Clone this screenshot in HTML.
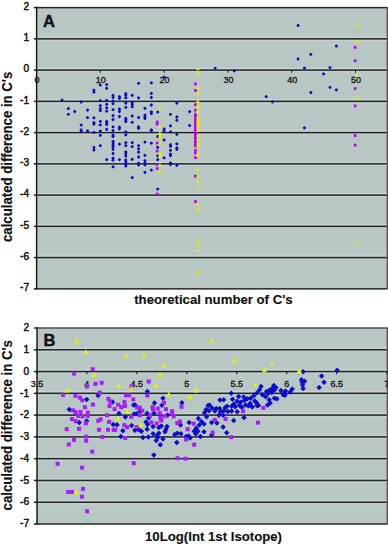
<!DOCTYPE html><html><head><meta charset="utf-8"><style>html,body{margin:0;padding:0;background:#fff;width:388px;height:544px;overflow:hidden}svg{display:block}</style></head><body><svg width="388" height="544" viewBox="0 0 388 544">
<style>text{font-family:"Liberation Sans",sans-serif;fill:#111}.yl{font-size:10.2px;stroke:#111;stroke-width:0.45px}.xl{font-size:9px;stroke:#111;stroke-width:0.3px}.t{font-size:13.2px;font-weight:bold;stroke:#111;stroke-width:0.15px}.p{font-size:16.5px;font-weight:bold;stroke:#111;stroke-width:0.4px}</style>
<rect width="388" height="544" fill="#fff"/>
<rect x="37" y="7.60" width="350" height="281.25" fill="#b8c6c4"/>
<rect x="386.6" y="7.00" width="1.4" height="282.45" fill="#555"/>
<rect x="33.8" y="6.85" width="353.00" height="1.5" fill="#222828"/>
<text x="29.2" y="9.90" text-anchor="end" class="yl">2</text>
<rect x="37" y="36.55" width="349.5" height="1.1" fill="#cad6d4"/>
<rect x="37" y="39.95" width="349.5" height="1.1" fill="#c6d2d0"/>
<rect x="33.8" y="38.10" width="353.00" height="1.5" fill="#222828"/>
<text x="29.2" y="41.15" text-anchor="end" class="yl">1</text>
<rect x="37" y="67.80" width="349.5" height="1.1" fill="#cad6d4"/>
<rect x="37" y="71.20" width="349.5" height="1.1" fill="#c6d2d0"/>
<rect x="33.8" y="69.35" width="353.00" height="1.5" fill="#222828"/>
<text x="29.2" y="72.40" text-anchor="end" class="yl">0</text>
<rect x="37" y="99.05" width="349.5" height="1.1" fill="#cad6d4"/>
<rect x="37" y="102.45" width="349.5" height="1.1" fill="#c6d2d0"/>
<rect x="33.8" y="100.60" width="353.00" height="1.5" fill="#222828"/>
<text x="29.2" y="103.65" text-anchor="end" class="yl"><tspan dy="-0.9">-</tspan><tspan dy="0.9">1</tspan></text>
<rect x="37" y="130.30" width="349.5" height="1.1" fill="#cad6d4"/>
<rect x="37" y="133.70" width="349.5" height="1.1" fill="#c6d2d0"/>
<rect x="33.8" y="131.85" width="353.00" height="1.5" fill="#222828"/>
<text x="29.2" y="134.90" text-anchor="end" class="yl"><tspan dy="-0.9">-</tspan><tspan dy="0.9">2</tspan></text>
<rect x="37" y="161.55" width="349.5" height="1.1" fill="#cad6d4"/>
<rect x="37" y="164.95" width="349.5" height="1.1" fill="#c6d2d0"/>
<rect x="33.8" y="163.10" width="353.00" height="1.5" fill="#222828"/>
<text x="29.2" y="166.15" text-anchor="end" class="yl"><tspan dy="-0.9">-</tspan><tspan dy="0.9">3</tspan></text>
<rect x="37" y="192.80" width="349.5" height="1.1" fill="#cad6d4"/>
<rect x="37" y="196.20" width="349.5" height="1.1" fill="#c6d2d0"/>
<rect x="33.8" y="194.35" width="353.00" height="1.5" fill="#222828"/>
<text x="29.2" y="197.40" text-anchor="end" class="yl"><tspan dy="-0.9">-</tspan><tspan dy="0.9">4</tspan></text>
<rect x="37" y="224.05" width="349.5" height="1.1" fill="#cad6d4"/>
<rect x="37" y="227.45" width="349.5" height="1.1" fill="#c6d2d0"/>
<rect x="33.8" y="225.60" width="353.00" height="1.5" fill="#222828"/>
<text x="29.2" y="228.65" text-anchor="end" class="yl"><tspan dy="-0.9">-</tspan><tspan dy="0.9">5</tspan></text>
<rect x="37" y="255.30" width="349.5" height="1.1" fill="#cad6d4"/>
<rect x="37" y="258.70" width="349.5" height="1.1" fill="#c6d2d0"/>
<rect x="33.8" y="256.85" width="353.00" height="1.5" fill="#222828"/>
<text x="29.2" y="259.90" text-anchor="end" class="yl"><tspan dy="-0.9">-</tspan><tspan dy="0.9">6</tspan></text>
<rect x="33.8" y="288.10" width="353.00" height="1.5" fill="#222828"/>
<text x="29.2" y="291.15" text-anchor="end" class="yl"><tspan dy="-0.9">-</tspan><tspan dy="0.9">7</tspan></text>
<rect x="35.9" y="6.80" width="1.4" height="282.85" fill="#111"/>
<rect x="36.00" y="70.10" width="1" height="2.6" fill="#111"/>
<text x="37.00" y="83.40" text-anchor="middle" class="xl">0</text>
<rect x="99.80" y="70.10" width="1" height="2.6" fill="#111"/>
<text x="100.80" y="83.40" text-anchor="middle" class="xl">10</text>
<rect x="163.60" y="70.10" width="1" height="2.6" fill="#111"/>
<text x="164.60" y="83.40" text-anchor="middle" class="xl">20</text>
<rect x="227.40" y="70.10" width="1" height="2.6" fill="#111"/>
<text x="228.40" y="83.40" text-anchor="middle" class="xl">30</text>
<rect x="291.20" y="70.10" width="1" height="2.6" fill="#111"/>
<text x="292.20" y="83.40" text-anchor="middle" class="xl">40</text>
<rect x="355.00" y="70.10" width="1" height="2.6" fill="#111"/>
<text x="356.00" y="83.40" text-anchor="middle" class="xl">50</text>
<rect x="37" y="328.00" width="350" height="196.02" fill="#b8c6c4"/>
<rect x="386.6" y="327.40" width="1.4" height="197.22" fill="#555"/>
<rect x="33.8" y="327.25" width="353.00" height="1.5" fill="#4a5050"/>
<text x="29.2" y="331.20" text-anchor="end" class="yl">2</text>
<rect x="37" y="347.48" width="349.5" height="1.1" fill="#cad6d4"/>
<rect x="37" y="350.88" width="349.5" height="1.1" fill="#c6d2d0"/>
<rect x="33.8" y="349.03" width="353.00" height="1.5" fill="#222828"/>
<text x="29.2" y="352.98" text-anchor="end" class="yl">1</text>
<rect x="37" y="369.26" width="349.5" height="1.1" fill="#cad6d4"/>
<rect x="37" y="372.66" width="349.5" height="1.1" fill="#c6d2d0"/>
<rect x="33.8" y="370.81" width="353.00" height="1.5" fill="#222828"/>
<text x="29.2" y="374.76" text-anchor="end" class="yl">0</text>
<rect x="37" y="391.04" width="349.5" height="1.1" fill="#cad6d4"/>
<rect x="37" y="394.44" width="349.5" height="1.1" fill="#c6d2d0"/>
<rect x="33.8" y="392.59" width="353.00" height="1.5" fill="#222828"/>
<text x="29.2" y="396.54" text-anchor="end" class="yl"><tspan dy="-0.9">-</tspan><tspan dy="0.9">1</tspan></text>
<rect x="37" y="412.82" width="349.5" height="1.1" fill="#cad6d4"/>
<rect x="37" y="416.22" width="349.5" height="1.1" fill="#c6d2d0"/>
<rect x="33.8" y="414.37" width="353.00" height="1.5" fill="#222828"/>
<text x="29.2" y="418.32" text-anchor="end" class="yl"><tspan dy="-0.9">-</tspan><tspan dy="0.9">2</tspan></text>
<rect x="37" y="434.60" width="349.5" height="1.1" fill="#cad6d4"/>
<rect x="37" y="438.00" width="349.5" height="1.1" fill="#c6d2d0"/>
<rect x="33.8" y="436.15" width="353.00" height="1.5" fill="#222828"/>
<text x="29.2" y="440.10" text-anchor="end" class="yl"><tspan dy="-0.9">-</tspan><tspan dy="0.9">3</tspan></text>
<rect x="37" y="456.38" width="349.5" height="1.1" fill="#cad6d4"/>
<rect x="37" y="459.78" width="349.5" height="1.1" fill="#c6d2d0"/>
<rect x="33.8" y="457.93" width="353.00" height="1.5" fill="#222828"/>
<text x="29.2" y="461.88" text-anchor="end" class="yl"><tspan dy="-0.9">-</tspan><tspan dy="0.9">4</tspan></text>
<rect x="37" y="478.16" width="349.5" height="1.1" fill="#cad6d4"/>
<rect x="37" y="481.56" width="349.5" height="1.1" fill="#c6d2d0"/>
<rect x="33.8" y="479.71" width="353.00" height="1.5" fill="#222828"/>
<text x="29.2" y="483.66" text-anchor="end" class="yl"><tspan dy="-0.9">-</tspan><tspan dy="0.9">5</tspan></text>
<rect x="37" y="499.94" width="349.5" height="1.1" fill="#cad6d4"/>
<rect x="37" y="503.34" width="349.5" height="1.1" fill="#c6d2d0"/>
<rect x="33.8" y="501.49" width="353.00" height="1.5" fill="#222828"/>
<text x="29.2" y="505.44" text-anchor="end" class="yl"><tspan dy="-0.9">-</tspan><tspan dy="0.9">6</tspan></text>
<rect x="33.8" y="523.27" width="353.00" height="1.5" fill="#222828"/>
<text x="29.2" y="527.22" text-anchor="end" class="yl"><tspan dy="-0.9">-</tspan><tspan dy="0.9">7</tspan></text>
<rect x="36.3" y="327.20" width="1.4" height="197.62" fill="#111"/>
<rect x="36.40" y="371.56" width="1" height="2.6" fill="#111"/>
<text x="36.90" y="387.00" text-anchor="middle" class="xl">3.5</text>
<rect x="86.37" y="371.56" width="1" height="2.6" fill="#111"/>
<text x="86.87" y="387.00" text-anchor="middle" class="xl">4</text>
<rect x="136.33" y="371.56" width="1" height="2.6" fill="#111"/>
<text x="136.83" y="387.00" text-anchor="middle" class="xl">4.5</text>
<rect x="186.30" y="371.56" width="1" height="2.6" fill="#111"/>
<text x="186.80" y="387.00" text-anchor="middle" class="xl">5</text>
<rect x="236.26" y="371.56" width="1" height="2.6" fill="#111"/>
<text x="236.76" y="387.00" text-anchor="middle" class="xl">5.5</text>
<rect x="286.23" y="371.56" width="1" height="2.6" fill="#111"/>
<text x="286.73" y="387.00" text-anchor="middle" class="xl">6</text>
<rect x="336.19" y="371.56" width="1" height="2.6" fill="#111"/>
<text x="336.69" y="387.00" text-anchor="middle" class="xl">6.5</text>
<rect x="386.15" y="371.56" width="1" height="2.6" fill="#111"/>
<text x="386.65" y="387.00" text-anchor="middle" class="xl">7</text>
<text x="43.0" y="26.5" class="p">A</text>
<text x="43.5" y="345.6" class="p">B</text>
<text x="134.2" y="303.9" class="t">theoretical number of C's</text>
<text x="145.0" y="540.9" class="t">10Log(Int 1st Isotope)</text>
<text transform="translate(12,242) rotate(-90) scale(1,1.06)" class="t">calculated difference in C's</text>
<text transform="translate(12,510.4) rotate(-90) scale(1,1.06)" class="t">calculated difference in C's</text>
<path d="M61.18 99.04Q62.02 98.05 62.86 99.04L63.18 99.36Q64.17 100.20 63.18 101.04L62.86 101.36Q62.02 102.35 61.18 101.36L60.86 101.04Q59.87 100.20 60.86 99.36Z" fill="#0c0ccc"/>
<path d="M67.56 107.54Q68.40 106.55 69.24 107.54L69.56 107.86Q70.55 108.70 69.56 109.54L69.24 109.86Q68.40 110.85 67.56 109.86L67.24 109.54Q66.25 108.70 67.24 107.86Z" fill="#0c0ccc"/>
<path d="M67.56 113.24Q68.40 112.25 69.24 113.24L69.56 113.56Q70.55 114.40 69.56 115.24L69.24 115.56Q68.40 116.55 67.56 115.56L67.24 115.24Q66.25 114.40 67.24 113.56Z" fill="#0c0ccc"/>
<path d="M73.94 110.34Q74.78 109.35 75.62 110.34L75.94 110.66Q76.93 111.50 75.94 112.34L75.62 112.66Q74.78 113.65 73.94 112.66L73.62 112.34Q72.63 111.50 73.62 110.66Z" fill="#0c0ccc"/>
<path d="M80.32 100.84Q81.16 99.85 82.00 100.84L82.32 101.16Q83.31 102.00 82.32 102.84L82.00 103.16Q81.16 104.15 80.32 103.16L80.00 102.84Q79.01 102.00 80.00 101.16Z" fill="#0c0ccc"/>
<path d="M80.32 123.94Q81.16 122.95 82.00 123.94L82.32 124.26Q83.31 125.10 82.32 125.94L82.00 126.26Q81.16 127.25 80.32 126.26L80.00 125.94Q79.01 125.10 80.00 124.26Z" fill="#0c0ccc"/>
<path d="M80.32 128.84Q81.16 127.85 82.00 128.84L82.32 129.16Q83.31 130.00 82.32 130.84L82.00 131.16Q81.16 132.15 80.32 131.16L80.00 130.84Q79.01 130.00 80.00 129.16Z" fill="#0c0ccc"/>
<path d="M80.32 129.94Q81.16 128.95 82.00 129.94L82.32 130.26Q83.31 131.10 82.32 131.94L82.00 132.26Q81.16 133.25 80.32 132.26L80.00 131.94Q79.01 131.10 80.00 130.26Z" fill="#0c0ccc"/>
<path d="M86.70 109.04Q87.54 108.05 88.38 109.04L88.70 109.36Q89.69 110.20 88.70 111.04L88.38 111.36Q87.54 112.35 86.70 111.36L86.38 111.04Q85.39 110.20 86.38 109.36Z" fill="#0c0ccc"/>
<path d="M86.70 116.54Q87.54 115.55 88.38 116.54L88.70 116.86Q89.69 117.70 88.70 118.54L88.38 118.86Q87.54 119.85 86.70 118.86L86.38 118.54Q85.39 117.70 86.38 116.86Z" fill="#0c0ccc"/>
<path d="M86.70 129.64Q87.54 128.65 88.38 129.64L88.70 129.96Q89.69 130.80 88.70 131.64L88.38 131.96Q87.54 132.95 86.70 131.96L86.38 131.64Q85.39 130.80 86.38 129.96Z" fill="#0c0ccc"/>
<path d="M93.08 88.94Q93.92 87.95 94.76 88.94L95.08 89.26Q96.07 90.10 95.08 90.94L94.76 91.26Q93.92 92.25 93.08 91.26L92.76 90.94Q91.77 90.10 92.76 89.26Z" fill="#0c0ccc"/>
<path d="M93.08 90.94Q93.92 89.95 94.76 90.94L95.08 91.26Q96.07 92.10 95.08 92.94L94.76 93.26Q93.92 94.25 93.08 93.26L92.76 92.94Q91.77 92.10 92.76 91.26Z" fill="#0c0ccc"/>
<path d="M93.08 116.74Q93.92 115.75 94.76 116.74L95.08 117.06Q96.07 117.90 95.08 118.74L94.76 119.06Q93.92 120.05 93.08 119.06L92.76 118.74Q91.77 117.90 92.76 117.06Z" fill="#0c0ccc"/>
<path d="M93.08 121.44Q93.92 120.45 94.76 121.44L95.08 121.76Q96.07 122.60 95.08 123.44L94.76 123.76Q93.92 124.75 93.08 123.76L92.76 123.44Q91.77 122.60 92.76 121.76Z" fill="#0c0ccc"/>
<path d="M93.08 122.94Q93.92 121.95 94.76 122.94L95.08 123.26Q96.07 124.10 95.08 124.94L94.76 125.26Q93.92 126.25 93.08 125.26L92.76 124.94Q91.77 124.10 92.76 123.26Z" fill="#0c0ccc"/>
<path d="M93.08 131.24Q93.92 130.25 94.76 131.24L95.08 131.56Q96.07 132.40 95.08 133.24L94.76 133.56Q93.92 134.55 93.08 133.56L92.76 133.24Q91.77 132.40 92.76 131.56Z" fill="#0c0ccc"/>
<path d="M93.08 146.34Q93.92 145.35 94.76 146.34L95.08 146.66Q96.07 147.50 95.08 148.34L94.76 148.66Q93.92 149.65 93.08 148.66L92.76 148.34Q91.77 147.50 92.76 146.66Z" fill="#0c0ccc"/>
<path d="M93.08 148.84Q93.92 147.85 94.76 148.84L95.08 149.16Q96.07 150.00 95.08 150.84L94.76 151.16Q93.92 152.15 93.08 151.16L92.76 150.84Q91.77 150.00 92.76 149.16Z" fill="#0c0ccc"/>
<path d="M99.46 83.84Q100.30 82.85 101.14 83.84L101.46 84.16Q102.45 85.00 101.46 85.84L101.14 86.16Q100.30 87.15 99.46 86.16L99.14 85.84Q98.15 85.00 99.14 84.16Z" fill="#0c0ccc"/>
<path d="M99.46 99.54Q100.30 98.55 101.14 99.54L101.46 99.86Q102.45 100.70 101.46 101.54L101.14 101.86Q100.30 102.85 99.46 101.86L99.14 101.54Q98.15 100.70 99.14 99.86Z" fill="#0c0ccc"/>
<path d="M99.46 104.54Q100.30 103.55 101.14 104.54L101.46 104.86Q102.45 105.70 101.46 106.54L101.14 106.86Q100.30 107.85 99.46 106.86L99.14 106.54Q98.15 105.70 99.14 104.86Z" fill="#0c0ccc"/>
<path d="M99.46 107.54Q100.30 106.55 101.14 107.54L101.46 107.86Q102.45 108.70 101.46 109.54L101.14 109.86Q100.30 110.85 99.46 109.86L99.14 109.54Q98.15 108.70 99.14 107.86Z" fill="#0c0ccc"/>
<path d="M99.46 109.44Q100.30 108.45 101.14 109.44L101.46 109.76Q102.45 110.60 101.46 111.44L101.14 111.76Q100.30 112.75 99.46 111.76L99.14 111.44Q98.15 110.60 99.14 109.76Z" fill="#0c0ccc"/>
<path d="M99.46 120.24Q100.30 119.25 101.14 120.24L101.46 120.56Q102.45 121.40 101.46 122.24L101.14 122.56Q100.30 123.55 99.46 122.56L99.14 122.24Q98.15 121.40 99.14 120.56Z" fill="#0c0ccc"/>
<path d="M99.46 123.74Q100.30 122.75 101.14 123.74L101.46 124.06Q102.45 124.90 101.46 125.74L101.14 126.06Q100.30 127.05 99.46 126.06L99.14 125.74Q98.15 124.90 99.14 124.06Z" fill="#0c0ccc"/>
<path d="M99.46 129.94Q100.30 128.95 101.14 129.94L101.46 130.26Q102.45 131.10 101.46 131.94L101.14 132.26Q100.30 133.25 99.46 132.26L99.14 131.94Q98.15 131.10 99.14 130.26Z" fill="#0c0ccc"/>
<path d="M99.46 134.24Q100.30 133.25 101.14 134.24L101.46 134.56Q102.45 135.40 101.46 136.24L101.14 136.56Q100.30 137.55 99.46 136.56L99.14 136.24Q98.15 135.40 99.14 134.56Z" fill="#0c0ccc"/>
<path d="M99.46 144.54Q100.30 143.55 101.14 144.54L101.46 144.86Q102.45 145.70 101.46 146.54L101.14 146.86Q100.30 147.85 99.46 146.86L99.14 146.54Q98.15 145.70 99.14 144.86Z" fill="#0c0ccc"/>
<path d="M105.84 83.44Q106.68 82.45 107.52 83.44L107.84 83.76Q108.83 84.60 107.84 85.44L107.52 85.76Q106.68 86.75 105.84 85.76L105.52 85.44Q104.53 84.60 105.52 83.76Z" fill="#0c0ccc"/>
<path d="M105.84 87.24Q106.68 86.25 107.52 87.24L107.84 87.56Q108.83 88.40 107.84 89.24L107.52 89.56Q106.68 90.55 105.84 89.56L105.52 89.24Q104.53 88.40 105.52 87.56Z" fill="#0c0ccc"/>
<path d="M105.84 99.24Q106.68 98.25 107.52 99.24L107.84 99.56Q108.83 100.40 107.84 101.24L107.52 101.56Q106.68 102.55 105.84 101.56L105.52 101.24Q104.53 100.40 105.52 99.56Z" fill="#0c0ccc"/>
<path d="M105.84 103.14Q106.68 102.15 107.52 103.14L107.84 103.46Q108.83 104.30 107.84 105.14L107.52 105.46Q106.68 106.45 105.84 105.46L105.52 105.14Q104.53 104.30 105.52 103.46Z" fill="#0c0ccc"/>
<path d="M105.84 106.64Q106.68 105.65 107.52 106.64L107.84 106.96Q108.83 107.80 107.84 108.64L107.52 108.96Q106.68 109.95 105.84 108.96L105.52 108.64Q104.53 107.80 105.52 106.96Z" fill="#0c0ccc"/>
<path d="M105.84 109.94Q106.68 108.95 107.52 109.94L107.84 110.26Q108.83 111.10 107.84 111.94L107.52 112.26Q106.68 113.25 105.84 112.26L105.52 111.94Q104.53 111.10 105.52 110.26Z" fill="#0c0ccc"/>
<path d="M105.84 120.34Q106.68 119.35 107.52 120.34L107.84 120.66Q108.83 121.50 107.84 122.34L107.52 122.66Q106.68 123.65 105.84 122.66L105.52 122.34Q104.53 121.50 105.52 120.66Z" fill="#0c0ccc"/>
<path d="M105.84 122.04Q106.68 121.05 107.52 122.04L107.84 122.36Q108.83 123.20 107.84 124.04L107.52 124.36Q106.68 125.35 105.84 124.36L105.52 124.04Q104.53 123.20 105.52 122.36Z" fill="#0c0ccc"/>
<path d="M105.84 123.44Q106.68 122.45 107.52 123.44L107.84 123.76Q108.83 124.60 107.84 125.44L107.52 125.76Q106.68 126.75 105.84 125.76L105.52 125.44Q104.53 124.60 105.52 123.76Z" fill="#0c0ccc"/>
<path d="M105.84 128.24Q106.68 127.25 107.52 128.24L107.84 128.56Q108.83 129.40 107.84 130.24L107.52 130.56Q106.68 131.55 105.84 130.56L105.52 130.24Q104.53 129.40 105.52 128.56Z" fill="#0c0ccc"/>
<path d="M105.84 158.44Q106.68 157.45 107.52 158.44L107.84 158.76Q108.83 159.60 107.84 160.44L107.52 160.76Q106.68 161.75 105.84 160.76L105.52 160.44Q104.53 159.60 105.52 158.76Z" fill="#0c0ccc"/>
<path d="M112.22 94.24Q113.06 93.25 113.90 94.24L114.22 94.56Q115.21 95.40 114.22 96.24L113.90 96.56Q113.06 97.55 112.22 96.56L111.90 96.24Q110.91 95.40 111.90 94.56Z" fill="#0c0ccc"/>
<path d="M112.22 96.14Q113.06 95.15 113.90 96.14L114.22 96.46Q115.21 97.30 114.22 98.14L113.90 98.46Q113.06 99.45 112.22 98.46L111.90 98.14Q110.91 97.30 111.90 96.46Z" fill="#0c0ccc"/>
<path d="M112.22 99.84Q113.06 98.85 113.90 99.84L114.22 100.16Q115.21 101.00 114.22 101.84L113.90 102.16Q113.06 103.15 112.22 102.16L111.90 101.84Q110.91 101.00 111.90 100.16Z" fill="#0c0ccc"/>
<path d="M112.22 102.54Q113.06 101.55 113.90 102.54L114.22 102.86Q115.21 103.70 114.22 104.54L113.90 104.86Q113.06 105.85 112.22 104.86L111.90 104.54Q110.91 103.70 111.90 102.86Z" fill="#0c0ccc"/>
<path d="M112.22 108.44Q113.06 107.45 113.90 108.44L114.22 108.76Q115.21 109.60 114.22 110.44L113.90 110.76Q113.06 111.75 112.22 110.76L111.90 110.44Q110.91 109.60 111.90 108.76Z" fill="#0c0ccc"/>
<path d="M112.22 114.44Q113.06 113.45 113.90 114.44L114.22 114.76Q115.21 115.60 114.22 116.44L113.90 116.76Q113.06 117.75 112.22 116.76L111.90 116.44Q110.91 115.60 111.90 114.76Z" fill="#0c0ccc"/>
<path d="M112.22 118.34Q113.06 117.35 113.90 118.34L114.22 118.66Q115.21 119.50 114.22 120.34L113.90 120.66Q113.06 121.65 112.22 120.66L111.90 120.34Q110.91 119.50 111.90 118.66Z" fill="#0c0ccc"/>
<path d="M112.22 125.74Q113.06 124.75 113.90 125.74L114.22 126.06Q115.21 126.90 114.22 127.74L113.90 128.06Q113.06 129.05 112.22 128.06L111.90 127.74Q110.91 126.90 111.90 126.06Z" fill="#0c0ccc"/>
<path d="M112.22 129.44Q113.06 128.45 113.90 129.44L114.22 129.76Q115.21 130.60 114.22 131.44L113.90 131.76Q113.06 132.75 112.22 131.76L111.90 131.44Q110.91 130.60 111.90 129.76Z" fill="#0c0ccc"/>
<path d="M112.22 134.04Q113.06 133.05 113.90 134.04L114.22 134.36Q115.21 135.20 114.22 136.04L113.90 136.36Q113.06 137.35 112.22 136.36L111.90 136.04Q110.91 135.20 111.90 134.36Z" fill="#0c0ccc"/>
<path d="M112.22 135.44Q113.06 134.45 113.90 135.44L114.22 135.76Q115.21 136.60 114.22 137.44L113.90 137.76Q113.06 138.75 112.22 137.76L111.90 137.44Q110.91 136.60 111.90 135.76Z" fill="#0c0ccc"/>
<path d="M112.22 140.24Q113.06 139.25 113.90 140.24L114.22 140.56Q115.21 141.40 114.22 142.24L113.90 142.56Q113.06 143.55 112.22 142.56L111.90 142.24Q110.91 141.40 111.90 140.56Z" fill="#0c0ccc"/>
<path d="M112.22 141.84Q113.06 140.85 113.90 141.84L114.22 142.16Q115.21 143.00 114.22 143.84L113.90 144.16Q113.06 145.15 112.22 144.16L111.90 143.84Q110.91 143.00 111.90 142.16Z" fill="#0c0ccc"/>
<path d="M112.22 143.94Q113.06 142.95 113.90 143.94L114.22 144.26Q115.21 145.10 114.22 145.94L113.90 146.26Q113.06 147.25 112.22 146.26L111.90 145.94Q110.91 145.10 111.90 144.26Z" fill="#0c0ccc"/>
<path d="M112.22 145.74Q113.06 144.75 113.90 145.74L114.22 146.06Q115.21 146.90 114.22 147.74L113.90 148.06Q113.06 149.05 112.22 148.06L111.90 147.74Q110.91 146.90 111.90 146.06Z" fill="#0c0ccc"/>
<path d="M112.22 148.24Q113.06 147.25 113.90 148.24L114.22 148.56Q115.21 149.40 114.22 150.24L113.90 150.56Q113.06 151.55 112.22 150.56L111.90 150.24Q110.91 149.40 111.90 148.56Z" fill="#0c0ccc"/>
<path d="M112.22 152.34Q113.06 151.35 113.90 152.34L114.22 152.66Q115.21 153.50 114.22 154.34L113.90 154.66Q113.06 155.65 112.22 154.66L111.90 154.34Q110.91 153.50 111.90 152.66Z" fill="#0c0ccc"/>
<path d="M112.22 157.04Q113.06 156.05 113.90 157.04L114.22 157.36Q115.21 158.20 114.22 159.04L113.90 159.36Q113.06 160.35 112.22 159.36L111.90 159.04Q110.91 158.20 111.90 157.36Z" fill="#0c0ccc"/>
<path d="M112.22 159.04Q113.06 158.05 113.90 159.04L114.22 159.36Q115.21 160.20 114.22 161.04L113.90 161.36Q113.06 162.35 112.22 161.36L111.90 161.04Q110.91 160.20 111.90 159.36Z" fill="#0c0ccc"/>
<path d="M112.22 165.74Q113.06 164.75 113.90 165.74L114.22 166.06Q115.21 166.90 114.22 167.74L113.90 168.06Q113.06 169.05 112.22 168.06L111.90 167.74Q110.91 166.90 111.90 166.06Z" fill="#0c0ccc"/>
<path d="M118.60 95.54Q119.44 94.55 120.28 95.54L120.60 95.86Q121.59 96.70 120.60 97.54L120.28 97.86Q119.44 98.85 118.60 97.86L118.28 97.54Q117.29 96.70 118.28 95.86Z" fill="#0c0ccc"/>
<path d="M118.60 97.34Q119.44 96.35 120.28 97.34L120.60 97.66Q121.59 98.50 120.60 99.34L120.28 99.66Q119.44 100.65 118.60 99.66L118.28 99.34Q117.29 98.50 118.28 97.66Z" fill="#0c0ccc"/>
<path d="M118.60 107.84Q119.44 106.85 120.28 107.84L120.60 108.16Q121.59 109.00 120.60 109.84L120.28 110.16Q119.44 111.15 118.60 110.16L118.28 109.84Q117.29 109.00 118.28 108.16Z" fill="#0c0ccc"/>
<path d="M118.60 110.34Q119.44 109.35 120.28 110.34L120.60 110.66Q121.59 111.50 120.60 112.34L120.28 112.66Q119.44 113.65 118.60 112.66L118.28 112.34Q117.29 111.50 118.28 110.66Z" fill="#0c0ccc"/>
<path d="M118.60 115.34Q119.44 114.35 120.28 115.34L120.60 115.66Q121.59 116.50 120.60 117.34L120.28 117.66Q119.44 118.65 118.60 117.66L118.28 117.34Q117.29 116.50 118.28 115.66Z" fill="#0c0ccc"/>
<path d="M118.60 125.94Q119.44 124.95 120.28 125.94L120.60 126.26Q121.59 127.10 120.60 127.94L120.28 128.26Q119.44 129.25 118.60 128.26L118.28 127.94Q117.29 127.10 118.28 126.26Z" fill="#0c0ccc"/>
<path d="M118.60 127.84Q119.44 126.85 120.28 127.84L120.60 128.16Q121.59 129.00 120.60 129.84L120.28 130.16Q119.44 131.15 118.60 130.16L118.28 129.84Q117.29 129.00 118.28 128.16Z" fill="#0c0ccc"/>
<path d="M118.60 143.04Q119.44 142.05 120.28 143.04L120.60 143.36Q121.59 144.20 120.60 145.04L120.28 145.36Q119.44 146.35 118.60 145.36L118.28 145.04Q117.29 144.20 118.28 143.36Z" fill="#0c0ccc"/>
<path d="M118.60 158.44Q119.44 157.45 120.28 158.44L120.60 158.76Q121.59 159.60 120.60 160.44L120.28 160.76Q119.44 161.75 118.60 160.76L118.28 160.44Q117.29 159.60 118.28 158.76Z" fill="#0c0ccc"/>
<path d="M124.98 92.44Q125.82 91.45 126.66 92.44L126.98 92.76Q127.97 93.60 126.98 94.44L126.66 94.76Q125.82 95.75 124.98 94.76L124.66 94.44Q123.67 93.60 124.66 92.76Z" fill="#0c0ccc"/>
<path d="M124.98 94.24Q125.82 93.25 126.66 94.24L126.98 94.56Q127.97 95.40 126.98 96.24L126.66 96.56Q125.82 97.55 124.98 96.56L124.66 96.24Q123.67 95.40 124.66 94.56Z" fill="#0c0ccc"/>
<path d="M124.98 96.74Q125.82 95.75 126.66 96.74L126.98 97.06Q127.97 97.90 126.98 98.74L126.66 99.06Q125.82 100.05 124.98 99.06L124.66 98.74Q123.67 97.90 124.66 97.06Z" fill="#0c0ccc"/>
<path d="M124.98 102.04Q125.82 101.05 126.66 102.04L126.98 102.36Q127.97 103.20 126.98 104.04L126.66 104.36Q125.82 105.35 124.98 104.36L124.66 104.04Q123.67 103.20 124.66 102.36Z" fill="#0c0ccc"/>
<path d="M124.98 106.24Q125.82 105.25 126.66 106.24L126.98 106.56Q127.97 107.40 126.98 108.24L126.66 108.56Q125.82 109.55 124.98 108.56L124.66 108.24Q123.67 107.40 124.66 106.56Z" fill="#0c0ccc"/>
<path d="M124.98 117.14Q125.82 116.15 126.66 117.14L126.98 117.46Q127.97 118.30 126.98 119.14L126.66 119.46Q125.82 120.45 124.98 119.46L124.66 119.14Q123.67 118.30 124.66 117.46Z" fill="#0c0ccc"/>
<path d="M124.98 118.64Q125.82 117.65 126.66 118.64L126.98 118.96Q127.97 119.80 126.98 120.64L126.66 120.96Q125.82 121.95 124.98 120.96L124.66 120.64Q123.67 119.80 124.66 118.96Z" fill="#0c0ccc"/>
<path d="M124.98 120.44Q125.82 119.45 126.66 120.44L126.98 120.76Q127.97 121.60 126.98 122.44L126.66 122.76Q125.82 123.75 124.98 122.76L124.66 122.44Q123.67 121.60 124.66 120.76Z" fill="#0c0ccc"/>
<path d="M124.98 130.64Q125.82 129.65 126.66 130.64L126.98 130.96Q127.97 131.80 126.98 132.64L126.66 132.96Q125.82 133.95 124.98 132.96L124.66 132.64Q123.67 131.80 124.66 130.96Z" fill="#0c0ccc"/>
<path d="M124.98 133.64Q125.82 132.65 126.66 133.64L126.98 133.96Q127.97 134.80 126.98 135.64L126.66 135.96Q125.82 136.95 124.98 135.96L124.66 135.64Q123.67 134.80 124.66 133.96Z" fill="#0c0ccc"/>
<path d="M124.98 141.44Q125.82 140.45 126.66 141.44L126.98 141.76Q127.97 142.60 126.98 143.44L126.66 143.76Q125.82 144.75 124.98 143.76L124.66 143.44Q123.67 142.60 124.66 141.76Z" fill="#0c0ccc"/>
<path d="M124.98 144.54Q125.82 143.55 126.66 144.54L126.98 144.86Q127.97 145.70 126.98 146.54L126.66 146.86Q125.82 147.85 124.98 146.86L124.66 146.54Q123.67 145.70 124.66 144.86Z" fill="#0c0ccc"/>
<path d="M124.98 150.74Q125.82 149.75 126.66 150.74L126.98 151.06Q127.97 151.90 126.98 152.74L126.66 153.06Q125.82 154.05 124.98 153.06L124.66 152.74Q123.67 151.90 124.66 151.06Z" fill="#0c0ccc"/>
<path d="M124.98 152.54Q125.82 151.55 126.66 152.54L126.98 152.86Q127.97 153.70 126.98 154.54L126.66 154.86Q125.82 155.85 124.98 154.86L124.66 154.54Q123.67 153.70 124.66 152.86Z" fill="#0c0ccc"/>
<path d="M124.98 154.84Q125.82 153.85 126.66 154.84L126.98 155.16Q127.97 156.00 126.98 156.84L126.66 157.16Q125.82 158.15 124.98 157.16L124.66 156.84Q123.67 156.00 124.66 155.16Z" fill="#0c0ccc"/>
<path d="M124.98 158.84Q125.82 157.85 126.66 158.84L126.98 159.16Q127.97 160.00 126.98 160.84L126.66 161.16Q125.82 162.15 124.98 161.16L124.66 160.84Q123.67 160.00 124.66 159.16Z" fill="#0c0ccc"/>
<path d="M124.98 160.84Q125.82 159.85 126.66 160.84L126.98 161.16Q127.97 162.00 126.98 162.84L126.66 163.16Q125.82 164.15 124.98 163.16L124.66 162.84Q123.67 162.00 124.66 161.16Z" fill="#0c0ccc"/>
<path d="M124.98 163.34Q125.82 162.35 126.66 163.34L126.98 163.66Q127.97 164.50 126.98 165.34L126.66 165.66Q125.82 166.65 124.98 165.66L124.66 165.34Q123.67 164.50 124.66 163.66Z" fill="#0c0ccc"/>
<path d="M124.98 164.84Q125.82 163.85 126.66 164.84L126.98 165.16Q127.97 166.00 126.98 166.84L126.66 167.16Q125.82 168.15 124.98 167.16L124.66 166.84Q123.67 166.00 124.66 165.16Z" fill="#0c0ccc"/>
<path d="M131.36 94.24Q132.20 93.25 133.04 94.24L133.36 94.56Q134.35 95.40 133.36 96.24L133.04 96.56Q132.20 97.55 131.36 96.56L131.04 96.24Q130.05 95.40 131.04 94.56Z" fill="#0c0ccc"/>
<path d="M131.36 101.64Q132.20 100.65 133.04 101.64L133.36 101.96Q134.35 102.80 133.36 103.64L133.04 103.96Q132.20 104.95 131.36 103.96L131.04 103.64Q130.05 102.80 131.04 101.96Z" fill="#0c0ccc"/>
<path d="M131.36 103.54Q132.20 102.55 133.04 103.54L133.36 103.86Q134.35 104.70 133.36 105.54L133.04 105.86Q132.20 106.85 131.36 105.86L131.04 105.54Q130.05 104.70 131.04 103.86Z" fill="#0c0ccc"/>
<path d="M131.36 105.74Q132.20 104.75 133.04 105.74L133.36 106.06Q134.35 106.90 133.36 107.74L133.04 108.06Q132.20 109.05 131.36 108.06L131.04 107.74Q130.05 106.90 131.04 106.06Z" fill="#0c0ccc"/>
<path d="M131.36 114.84Q132.20 113.85 133.04 114.84L133.36 115.16Q134.35 116.00 133.36 116.84L133.04 117.16Q132.20 118.15 131.36 117.16L131.04 116.84Q130.05 116.00 131.04 115.16Z" fill="#0c0ccc"/>
<path d="M131.36 121.14Q132.20 120.15 133.04 121.14L133.36 121.46Q134.35 122.30 133.36 123.14L133.04 123.46Q132.20 124.45 131.36 123.46L131.04 123.14Q130.05 122.30 131.04 121.46Z" fill="#0c0ccc"/>
<path d="M131.36 141.44Q132.20 140.45 133.04 141.44L133.36 141.76Q134.35 142.60 133.36 143.44L133.04 143.76Q132.20 144.75 131.36 143.76L131.04 143.44Q130.05 142.60 131.04 141.76Z" fill="#0c0ccc"/>
<path d="M131.36 145.54Q132.20 144.55 133.04 145.54L133.36 145.86Q134.35 146.70 133.36 147.54L133.04 147.86Q132.20 148.85 131.36 147.86L131.04 147.54Q130.05 146.70 131.04 145.86Z" fill="#0c0ccc"/>
<path d="M131.36 158.24Q132.20 157.25 133.04 158.24L133.36 158.56Q134.35 159.40 133.36 160.24L133.04 160.56Q132.20 161.55 131.36 160.56L131.04 160.24Q130.05 159.40 131.04 158.56Z" fill="#0c0ccc"/>
<path d="M131.36 176.54Q132.20 175.55 133.04 176.54L133.36 176.86Q134.35 177.70 133.36 178.54L133.04 178.86Q132.20 179.85 131.36 178.86L131.04 178.54Q130.05 177.70 131.04 176.86Z" fill="#0c0ccc"/>
<path d="M137.74 82.14Q138.58 81.15 139.42 82.14L139.74 82.46Q140.73 83.30 139.74 84.14L139.42 84.46Q138.58 85.45 137.74 84.46L137.42 84.14Q136.43 83.30 137.42 82.46Z" fill="#0c0ccc"/>
<path d="M137.74 96.74Q138.58 95.75 139.42 96.74L139.74 97.06Q140.73 97.90 139.74 98.74L139.42 99.06Q138.58 100.05 137.74 99.06L137.42 98.74Q136.43 97.90 137.42 97.06Z" fill="#0c0ccc"/>
<path d="M137.74 116.34Q138.58 115.35 139.42 116.34L139.74 116.66Q140.73 117.50 139.74 118.34L139.42 118.66Q138.58 119.65 137.74 118.66L137.42 118.34Q136.43 117.50 137.42 116.66Z" fill="#0c0ccc"/>
<path d="M137.74 125.74Q138.58 124.75 139.42 125.74L139.74 126.06Q140.73 126.90 139.74 127.74L139.42 128.06Q138.58 129.05 137.74 128.06L137.42 127.74Q136.43 126.90 137.42 126.06Z" fill="#0c0ccc"/>
<path d="M137.74 127.24Q138.58 126.25 139.42 127.24L139.74 127.56Q140.73 128.40 139.74 129.24L139.42 129.56Q138.58 130.55 137.74 129.56L137.42 129.24Q136.43 128.40 137.42 127.56Z" fill="#0c0ccc"/>
<path d="M137.74 144.54Q138.58 143.55 139.42 144.54L139.74 144.86Q140.73 145.70 139.74 146.54L139.42 146.86Q138.58 147.85 137.74 146.86L137.42 146.54Q136.43 145.70 137.42 144.86Z" fill="#0c0ccc"/>
<path d="M137.74 147.64Q138.58 146.65 139.42 147.64L139.74 147.96Q140.73 148.80 139.74 149.64L139.42 149.96Q138.58 150.95 137.74 149.96L137.42 149.64Q136.43 148.80 137.42 147.96Z" fill="#0c0ccc"/>
<path d="M137.74 150.94Q138.58 149.95 139.42 150.94L139.74 151.26Q140.73 152.10 139.74 152.94L139.42 153.26Q138.58 154.25 137.74 153.26L137.42 152.94Q136.43 152.10 137.42 151.26Z" fill="#0c0ccc"/>
<path d="M137.74 155.84Q138.58 154.85 139.42 155.84L139.74 156.16Q140.73 157.00 139.74 157.84L139.42 158.16Q138.58 159.15 137.74 158.16L137.42 157.84Q136.43 157.00 137.42 156.16Z" fill="#0c0ccc"/>
<path d="M137.74 162.04Q138.58 161.05 139.42 162.04L139.74 162.36Q140.73 163.20 139.74 164.04L139.42 164.36Q138.58 165.35 137.74 164.36L137.42 164.04Q136.43 163.20 137.42 162.36Z" fill="#0c0ccc"/>
<path d="M137.74 163.74Q138.58 162.75 139.42 163.74L139.74 164.06Q140.73 164.90 139.74 165.74L139.42 166.06Q138.58 167.05 137.74 166.06L137.42 165.74Q136.43 164.90 137.42 164.06Z" fill="#0c0ccc"/>
<path d="M144.12 107.24Q144.96 106.25 145.80 107.24L146.12 107.56Q147.11 108.40 146.12 109.24L145.80 109.56Q144.96 110.55 144.12 109.56L143.80 109.24Q142.81 108.40 143.80 107.56Z" fill="#0c0ccc"/>
<path d="M144.12 114.04Q144.96 113.05 145.80 114.04L146.12 114.36Q147.11 115.20 146.12 116.04L145.80 116.36Q144.96 117.35 144.12 116.36L143.80 116.04Q142.81 115.20 143.80 114.36Z" fill="#0c0ccc"/>
<path d="M144.12 115.94Q144.96 114.95 145.80 115.94L146.12 116.26Q147.11 117.10 146.12 117.94L145.80 118.26Q144.96 119.25 144.12 118.26L143.80 117.94Q142.81 117.10 143.80 116.26Z" fill="#0c0ccc"/>
<path d="M144.12 117.34Q144.96 116.35 145.80 117.34L146.12 117.66Q147.11 118.50 146.12 119.34L145.80 119.66Q144.96 120.65 144.12 119.66L143.80 119.34Q142.81 118.50 143.80 117.66Z" fill="#0c0ccc"/>
<path d="M144.12 141.04Q144.96 140.05 145.80 141.04L146.12 141.36Q147.11 142.20 146.12 143.04L145.80 143.36Q144.96 144.35 144.12 143.36L143.80 143.04Q142.81 142.20 143.80 141.36Z" fill="#0c0ccc"/>
<path d="M144.12 154.14Q144.96 153.15 145.80 154.14L146.12 154.46Q147.11 155.30 146.12 156.14L145.80 156.46Q144.96 157.45 144.12 156.46L143.80 156.14Q142.81 155.30 143.80 154.46Z" fill="#0c0ccc"/>
<path d="M144.12 159.54Q144.96 158.55 145.80 159.54L146.12 159.86Q147.11 160.70 146.12 161.54L145.80 161.86Q144.96 162.85 144.12 161.86L143.80 161.54Q142.81 160.70 143.80 159.86Z" fill="#0c0ccc"/>
<path d="M144.12 162.04Q144.96 161.05 145.80 162.04L146.12 162.36Q147.11 163.20 146.12 164.04L145.80 164.36Q144.96 165.35 144.12 164.36L143.80 164.04Q142.81 163.20 143.80 162.36Z" fill="#0c0ccc"/>
<path d="M144.12 163.74Q144.96 162.75 145.80 163.74L146.12 164.06Q147.11 164.90 146.12 165.74L145.80 166.06Q144.96 167.05 144.12 166.06L143.80 165.74Q142.81 164.90 143.80 164.06Z" fill="#0c0ccc"/>
<path d="M144.12 171.14Q144.96 170.15 145.80 171.14L146.12 171.46Q147.11 172.30 146.12 173.14L145.80 173.46Q144.96 174.45 144.12 173.46L143.80 173.14Q142.81 172.30 143.80 171.46Z" fill="#0c0ccc"/>
<path d="M150.50 81.64Q151.34 80.65 152.18 81.64L152.50 81.96Q153.49 82.80 152.50 83.64L152.18 83.96Q151.34 84.95 150.50 83.96L150.18 83.64Q149.19 82.80 150.18 81.96Z" fill="#0c0ccc"/>
<path d="M150.50 92.14Q151.34 91.15 152.18 92.14L152.50 92.46Q153.49 93.30 152.50 94.14L152.18 94.46Q151.34 95.45 150.50 94.46L150.18 94.14Q149.19 93.30 150.18 92.46Z" fill="#0c0ccc"/>
<path d="M150.50 96.34Q151.34 95.35 152.18 96.34L152.50 96.66Q153.49 97.50 152.50 98.34L152.18 98.66Q151.34 99.65 150.50 98.66L150.18 98.34Q149.19 97.50 150.18 96.66Z" fill="#0c0ccc"/>
<path d="M150.50 103.84Q151.34 102.85 152.18 103.84L152.50 104.16Q153.49 105.00 152.50 105.84L152.18 106.16Q151.34 107.15 150.50 106.16L150.18 105.84Q149.19 105.00 150.18 104.16Z" fill="#0c0ccc"/>
<path d="M150.50 110.74Q151.34 109.75 152.18 110.74L152.50 111.06Q153.49 111.90 152.50 112.74L152.18 113.06Q151.34 114.05 150.50 113.06L150.18 112.74Q149.19 111.90 150.18 111.06Z" fill="#0c0ccc"/>
<path d="M150.50 112.54Q151.34 111.55 152.18 112.54L152.50 112.86Q153.49 113.70 152.50 114.54L152.18 114.86Q151.34 115.85 150.50 114.86L150.18 114.54Q149.19 113.70 150.18 112.86Z" fill="#0c0ccc"/>
<path d="M150.50 128.74Q151.34 127.75 152.18 128.74L152.50 129.06Q153.49 129.90 152.50 130.74L152.18 131.06Q151.34 132.05 150.50 131.06L150.18 130.74Q149.19 129.90 150.18 129.06Z" fill="#0c0ccc"/>
<path d="M150.50 129.84Q151.34 128.85 152.18 129.84L152.50 130.16Q153.49 131.00 152.50 131.84L152.18 132.16Q151.34 133.15 150.50 132.16L150.18 131.84Q149.19 131.00 150.18 130.16Z" fill="#0c0ccc"/>
<path d="M150.50 142.04Q151.34 141.05 152.18 142.04L152.50 142.36Q153.49 143.20 152.50 144.04L152.18 144.36Q151.34 145.35 150.50 144.36L150.18 144.04Q149.19 143.20 150.18 142.36Z" fill="#0c0ccc"/>
<path d="M150.50 169.04Q151.34 168.05 152.18 169.04L152.50 169.36Q153.49 170.20 152.50 171.04L152.18 171.36Q151.34 172.35 150.50 171.36L150.18 171.04Q149.19 170.20 150.18 169.36Z" fill="#0c0ccc"/>
<path d="M156.88 111.04Q157.72 110.05 158.56 111.04L158.88 111.36Q159.87 112.20 158.88 113.04L158.56 113.36Q157.72 114.35 156.88 113.36L156.56 113.04Q155.57 112.20 156.56 111.36Z" fill="#0c0ccc"/>
<path d="M156.88 135.34Q157.72 134.35 158.56 135.34L158.88 135.66Q159.87 136.50 158.88 137.34L158.56 137.66Q157.72 138.65 156.88 137.66L156.56 137.34Q155.57 136.50 156.56 135.66Z" fill="#0c0ccc"/>
<path d="M156.88 146.24Q157.72 145.25 158.56 146.24L158.88 146.56Q159.87 147.40 158.88 148.24L158.56 148.56Q157.72 149.55 156.88 148.56L156.56 148.24Q155.57 147.40 156.56 146.56Z" fill="#0c0ccc"/>
<path d="M156.88 154.64Q157.72 153.65 158.56 154.64L158.88 154.96Q159.87 155.80 158.88 156.64L158.56 156.96Q157.72 157.95 156.88 156.96L156.56 156.64Q155.57 155.80 156.56 154.96Z" fill="#0c0ccc"/>
<path d="M156.88 158.44Q157.72 157.45 158.56 158.44L158.88 158.76Q159.87 159.60 158.88 160.44L158.56 160.76Q157.72 161.75 156.88 160.76L156.56 160.44Q155.57 159.60 156.56 158.76Z" fill="#0c0ccc"/>
<path d="M156.88 188.04Q157.72 187.05 158.56 188.04L158.88 188.36Q159.87 189.20 158.88 190.04L158.56 190.36Q157.72 191.35 156.88 190.36L156.56 190.04Q155.57 189.20 156.56 188.36Z" fill="#0c0ccc"/>
<path d="M163.26 76.04Q164.10 75.05 164.94 76.04L165.26 76.36Q166.25 77.20 165.26 78.04L164.94 78.36Q164.10 79.35 163.26 78.36L162.94 78.04Q161.95 77.20 162.94 76.36Z" fill="#0c0ccc"/>
<path d="M163.26 127.84Q164.10 126.85 164.94 127.84L165.26 128.16Q166.25 129.00 165.26 129.84L164.94 130.16Q164.10 131.15 163.26 130.16L162.94 129.84Q161.95 129.00 162.94 128.16Z" fill="#0c0ccc"/>
<path d="M163.26 130.04Q164.10 129.05 164.94 130.04L165.26 130.36Q166.25 131.20 165.26 132.04L164.94 132.36Q164.10 133.35 163.26 132.36L162.94 132.04Q161.95 131.20 162.94 130.36Z" fill="#0c0ccc"/>
<path d="M163.26 138.84Q164.10 137.85 164.94 138.84L165.26 139.16Q166.25 140.00 165.26 140.84L164.94 141.16Q164.10 142.15 163.26 141.16L162.94 140.84Q161.95 140.00 162.94 139.16Z" fill="#0c0ccc"/>
<path d="M163.26 156.74Q164.10 155.75 164.94 156.74L165.26 157.06Q166.25 157.90 165.26 158.74L164.94 159.06Q164.10 160.05 163.26 159.06L162.94 158.74Q161.95 157.90 162.94 157.06Z" fill="#0c0ccc"/>
<path d="M169.64 113.24Q170.48 112.25 171.32 113.24L171.64 113.56Q172.63 114.40 171.64 115.24L171.32 115.56Q170.48 116.55 169.64 115.56L169.32 115.24Q168.33 114.40 169.32 113.56Z" fill="#0c0ccc"/>
<path d="M169.64 124.64Q170.48 123.65 171.32 124.64L171.64 124.96Q172.63 125.80 171.64 126.64L171.32 126.96Q170.48 127.95 169.64 126.96L169.32 126.64Q168.33 125.80 169.32 124.96Z" fill="#0c0ccc"/>
<path d="M169.64 130.64Q170.48 129.65 171.32 130.64L171.64 130.96Q172.63 131.80 171.64 132.64L171.32 132.96Q170.48 133.95 169.64 132.96L169.32 132.64Q168.33 131.80 169.32 130.96Z" fill="#0c0ccc"/>
<path d="M169.64 143.54Q170.48 142.55 171.32 143.54L171.64 143.86Q172.63 144.70 171.64 145.54L171.32 145.86Q170.48 146.85 169.64 145.86L169.32 145.54Q168.33 144.70 169.32 143.86Z" fill="#0c0ccc"/>
<path d="M169.64 145.14Q170.48 144.15 171.32 145.14L171.64 145.46Q172.63 146.30 171.64 147.14L171.32 147.46Q170.48 148.45 169.64 147.46L169.32 147.14Q168.33 146.30 169.32 145.46Z" fill="#0c0ccc"/>
<path d="M169.64 149.24Q170.48 148.25 171.32 149.24L171.64 149.56Q172.63 150.40 171.64 151.24L171.32 151.56Q170.48 152.55 169.64 151.56L169.32 151.24Q168.33 150.40 169.32 149.56Z" fill="#0c0ccc"/>
<path d="M169.64 152.94Q170.48 151.95 171.32 152.94L171.64 153.26Q172.63 154.10 171.64 154.94L171.32 155.26Q170.48 156.25 169.64 155.26L169.32 154.94Q168.33 154.10 169.32 153.26Z" fill="#0c0ccc"/>
<path d="M169.64 154.44Q170.48 153.45 171.32 154.44L171.64 154.76Q172.63 155.60 171.64 156.44L171.32 156.76Q170.48 157.75 169.64 156.76L169.32 156.44Q168.33 155.60 169.32 154.76Z" fill="#0c0ccc"/>
<path d="M169.64 161.84Q170.48 160.85 171.32 161.84L171.64 162.16Q172.63 163.00 171.64 163.84L171.32 164.16Q170.48 165.15 169.64 164.16L169.32 163.84Q168.33 163.00 169.32 162.16Z" fill="#0c0ccc"/>
<path d="M169.64 163.54Q170.48 162.55 171.32 163.54L171.64 163.86Q172.63 164.70 171.64 165.54L171.32 165.86Q170.48 166.85 169.64 165.86L169.32 165.54Q168.33 164.70 169.32 163.86Z" fill="#0c0ccc"/>
<path d="M176.02 101.84Q176.86 100.85 177.70 101.84L178.02 102.16Q179.01 103.00 178.02 103.84L177.70 104.16Q176.86 105.15 176.02 104.16L175.70 103.84Q174.71 103.00 175.70 102.16Z" fill="#0c0ccc"/>
<path d="M176.02 115.84Q176.86 114.85 177.70 115.84L178.02 116.16Q179.01 117.00 178.02 117.84L177.70 118.16Q176.86 119.15 176.02 118.16L175.70 117.84Q174.71 117.00 175.70 116.16Z" fill="#0c0ccc"/>
<path d="M176.02 119.14Q176.86 118.15 177.70 119.14L178.02 119.46Q179.01 120.30 178.02 121.14L177.70 121.46Q176.86 122.45 176.02 121.46L175.70 121.14Q174.71 120.30 175.70 119.46Z" fill="#0c0ccc"/>
<path d="M176.02 133.14Q176.86 132.15 177.70 133.14L178.02 133.46Q179.01 134.30 178.02 135.14L177.70 135.46Q176.86 136.45 176.02 135.46L175.70 135.14Q174.71 134.30 175.70 133.46Z" fill="#0c0ccc"/>
<path d="M176.02 142.64Q176.86 141.65 177.70 142.64L178.02 142.96Q179.01 143.80 178.02 144.64L177.70 144.96Q176.86 145.95 176.02 144.96L175.70 144.64Q174.71 143.80 175.70 142.96Z" fill="#0c0ccc"/>
<path d="M176.02 146.74Q176.86 145.75 177.70 146.74L178.02 147.06Q179.01 147.90 178.02 148.74L177.70 149.06Q176.86 150.05 176.02 149.06L175.70 148.74Q174.71 147.90 175.70 147.06Z" fill="#0c0ccc"/>
<path d="M176.02 148.24Q176.86 147.25 177.70 148.24L178.02 148.56Q179.01 149.40 178.02 150.24L177.70 150.56Q176.86 151.55 176.02 150.56L175.70 150.24Q174.71 149.40 175.70 148.56Z" fill="#0c0ccc"/>
<path d="M176.02 164.14Q176.86 163.15 177.70 164.14L178.02 164.46Q179.01 165.30 178.02 166.14L177.70 166.46Q176.86 167.45 176.02 166.46L175.70 166.14Q174.71 165.30 175.70 164.46Z" fill="#0c0ccc"/>
<path d="M188.78 110.54Q189.62 109.55 190.46 110.54L190.78 110.86Q191.77 111.70 190.78 112.54L190.46 112.86Q189.62 113.85 188.78 112.86L188.46 112.54Q187.47 111.70 188.46 110.86Z" fill="#0c0ccc"/>
<path d="M188.78 124.34Q189.62 123.35 190.46 124.34L190.78 124.66Q191.77 125.50 190.78 126.34L190.46 126.66Q189.62 127.65 188.78 126.66L188.46 126.34Q187.47 125.50 188.46 124.66Z" fill="#0c0ccc"/>
<path d="M214.30 67.14Q215.14 66.15 215.98 67.14L216.30 67.46Q217.29 68.30 216.30 69.14L215.98 69.46Q215.14 70.45 214.30 69.46L213.98 69.14Q212.99 68.30 213.98 67.46Z" fill="#0c0ccc"/>
<path d="M233.44 69.64Q234.28 68.65 235.12 69.64L235.44 69.96Q236.43 70.80 235.44 71.64L235.12 71.96Q234.28 72.95 233.44 71.96L233.12 71.64Q232.13 70.80 233.12 69.96Z" fill="#0c0ccc"/>
<path d="M265.34 95.44Q266.18 94.45 267.02 95.44L267.34 95.76Q268.33 96.60 267.34 97.44L267.02 97.76Q266.18 98.75 265.34 97.76L265.02 97.44Q264.03 96.60 265.02 95.76Z" fill="#0c0ccc"/>
<path d="M271.72 100.64Q272.56 99.65 273.40 100.64L273.72 100.96Q274.71 101.80 273.72 102.64L273.40 102.96Q272.56 103.95 271.72 102.96L271.40 102.64Q270.41 101.80 271.40 100.96Z" fill="#0c0ccc"/>
<path d="M297.24 24.34Q298.08 23.35 298.92 24.34L299.24 24.66Q300.23 25.50 299.24 26.34L298.92 26.66Q298.08 27.65 297.24 26.66L296.92 26.34Q295.93 25.50 296.92 24.66Z" fill="#0c0ccc"/>
<path d="M297.24 57.84Q298.08 56.85 298.92 57.84L299.24 58.16Q300.23 59.00 299.24 59.84L298.92 60.16Q298.08 61.15 297.24 60.16L296.92 59.84Q295.93 59.00 296.92 58.16Z" fill="#0c0ccc"/>
<path d="M303.62 67.04Q304.46 66.05 305.30 67.04L305.62 67.36Q306.61 68.20 305.62 69.04L305.30 69.36Q304.46 70.35 303.62 69.36L303.30 69.04Q302.31 68.20 303.30 67.36Z" fill="#0c0ccc"/>
<path d="M303.62 126.64Q304.46 125.65 305.30 126.64L305.62 126.96Q306.61 127.80 305.62 128.64L305.30 128.96Q304.46 129.95 303.62 128.96L303.30 128.64Q302.31 127.80 303.30 126.96Z" fill="#0c0ccc"/>
<path d="M310.00 53.14Q310.84 52.15 311.68 53.14L312.00 53.46Q312.99 54.30 312.00 55.14L311.68 55.46Q310.84 56.45 310.00 55.46L309.68 55.14Q308.69 54.30 309.68 53.46Z" fill="#0c0ccc"/>
<path d="M310.00 91.34Q310.84 90.35 311.68 91.34L312.00 91.66Q312.99 92.50 312.00 93.34L311.68 93.66Q310.84 94.65 310.00 93.66L309.68 93.34Q308.69 92.50 309.68 91.66Z" fill="#0c0ccc"/>
<path d="M322.76 72.74Q323.60 71.75 324.44 72.74L324.76 73.06Q325.75 73.90 324.76 74.74L324.44 75.06Q323.60 76.05 322.76 75.06L322.44 74.74Q321.45 73.90 322.44 73.06Z" fill="#0c0ccc"/>
<path d="M329.14 66.54Q329.98 65.55 330.82 66.54L331.14 66.86Q332.13 67.70 331.14 68.54L330.82 68.86Q329.98 69.85 329.14 68.86L328.82 68.54Q327.83 67.70 328.82 66.86Z" fill="#0c0ccc"/>
<path d="M329.14 86.14Q329.98 85.15 330.82 86.14L331.14 86.46Q332.13 87.30 331.14 88.14L330.82 88.46Q329.98 89.45 329.14 88.46L328.82 88.14Q327.83 87.30 328.82 86.46Z" fill="#0c0ccc"/>
<path d="M335.52 44.94Q336.36 43.95 337.20 44.94L337.52 45.26Q338.51 46.10 337.52 46.94L337.20 47.26Q336.36 48.25 335.52 47.26L335.20 46.94Q334.21 46.10 335.20 45.26Z" fill="#0c0ccc"/>
<path d="M335.52 88.74Q336.36 87.75 337.20 88.74L337.52 89.06Q338.51 89.90 337.52 90.74L337.20 91.06Q336.36 92.05 335.52 91.06L335.20 90.74Q334.21 89.90 335.20 89.06Z" fill="#0c0ccc"/>
<rect x="155.8" y="120.6" width="2.7" height="2.7" fill="#b800f0"/>
<rect x="155.8" y="122.7" width="2.7" height="2.7" fill="#b800f0"/>
<rect x="155.8" y="141.7" width="2.7" height="2.7" fill="#b800f0"/>
<rect x="155.8" y="149.6" width="2.7" height="2.7" fill="#b800f0"/>
<rect x="155.8" y="163.2" width="2.7" height="2.7" fill="#b800f0"/>
<rect x="155.8" y="167.1" width="2.7" height="2.7" fill="#b800f0"/>
<rect x="155.8" y="192.8" width="2.7" height="2.7" fill="#b800f0"/>
<rect x="194.1" y="82.5" width="2.7" height="2.7" fill="#b800f0"/>
<rect x="194.1" y="89.2" width="2.7" height="2.7" fill="#b800f0"/>
<rect x="194.1" y="103.4" width="2.7" height="2.7" fill="#b800f0"/>
<rect x="194.1" y="108.9" width="2.7" height="2.7" fill="#b800f0"/>
<rect x="194.1" y="149.2" width="2.7" height="2.7" fill="#b800f0"/>
<rect x="194.1" y="151.7" width="2.7" height="2.7" fill="#b800f0"/>
<rect x="194.1" y="156.2" width="2.7" height="2.7" fill="#b800f0"/>
<rect x="194.1" y="174.8" width="2.7" height="2.7" fill="#b800f0"/>
<rect x="194.1" y="200.2" width="2.7" height="2.7" fill="#b800f0"/>
<rect x="194.1" y="112.9" width="2.7" height="2.7" fill="#b800f0"/>
<rect x="194.1" y="114.9" width="2.7" height="2.7" fill="#b800f0"/>
<rect x="194.1" y="116.9" width="2.7" height="2.7" fill="#b800f0"/>
<rect x="194.1" y="118.9" width="2.7" height="2.7" fill="#b800f0"/>
<rect x="194.1" y="120.9" width="2.7" height="2.7" fill="#b800f0"/>
<rect x="194.1" y="122.9" width="2.7" height="2.7" fill="#b800f0"/>
<rect x="194.1" y="124.9" width="2.7" height="2.7" fill="#b800f0"/>
<rect x="194.1" y="126.8" width="2.7" height="2.7" fill="#b800f0"/>
<rect x="194.1" y="128.8" width="2.7" height="2.7" fill="#b800f0"/>
<rect x="194.1" y="130.8" width="2.7" height="2.7" fill="#b800f0"/>
<rect x="194.1" y="132.8" width="2.7" height="2.7" fill="#b800f0"/>
<rect x="194.1" y="134.8" width="2.7" height="2.7" fill="#b800f0"/>
<rect x="194.1" y="136.8" width="2.7" height="2.7" fill="#b800f0"/>
<rect x="194.1" y="138.8" width="2.7" height="2.7" fill="#b800f0"/>
<rect x="194.1" y="140.8" width="2.7" height="2.7" fill="#b800f0"/>
<rect x="194.1" y="142.8" width="2.7" height="2.7" fill="#b800f0"/>
<rect x="194.1" y="144.8" width="2.7" height="2.7" fill="#b800f0"/>
<rect x="353.8" y="46.0" width="2.7" height="2.7" fill="#b800f0"/>
<rect x="353.8" y="59.4" width="2.7" height="2.7" fill="#b800f0"/>
<rect x="353.8" y="87.2" width="2.7" height="2.7" fill="#b800f0"/>
<rect x="353.8" y="104.5" width="2.7" height="2.7" fill="#b800f0"/>
<rect x="353.8" y="134.2" width="2.7" height="2.7" fill="#b800f0"/>
<rect x="353.8" y="143.8" width="2.7" height="2.7" fill="#b800f0"/>
<path d="M159.9 106.0L161.8 109.5L158.0 109.5Z" fill="#e8f000"/>
<path d="M159.9 124.5L161.8 128.1L158.0 128.1Z" fill="#e8f000"/>
<path d="M159.9 131.1L161.8 134.6L158.0 134.6Z" fill="#e8f000"/>
<path d="M159.9 133.2L161.8 136.8L158.0 136.8Z" fill="#e8f000"/>
<path d="M159.9 135.4L161.8 138.9L158.0 138.9Z" fill="#e8f000"/>
<path d="M159.9 141.3L161.8 144.8L158.0 144.8Z" fill="#e8f000"/>
<path d="M159.9 151.2L161.8 154.7L158.0 154.7Z" fill="#e8f000"/>
<path d="M159.9 153.6L161.8 157.1L158.0 157.1Z" fill="#e8f000"/>
<path d="M159.9 162.9L161.8 166.4L158.0 166.4Z" fill="#e8f000"/>
<path d="M159.9 169.3L161.8 172.8L158.0 172.8Z" fill="#e8f000"/>
<path d="M197.9 66.7L199.8 70.2L196.0 70.2Z" fill="#e8f000"/>
<path d="M197.9 71.8L199.8 75.2L196.0 75.2Z" fill="#e8f000"/>
<path d="M197.9 85.5L199.8 89.0L196.0 89.0Z" fill="#e8f000"/>
<path d="M197.9 91.0L199.8 94.5L196.0 94.5Z" fill="#e8f000"/>
<path d="M197.9 99.2L199.8 102.8L196.0 102.8Z" fill="#e8f000"/>
<path d="M197.9 102.7L199.8 106.2L196.0 106.2Z" fill="#e8f000"/>
<path d="M197.9 104.8L199.8 108.3L196.0 108.3Z" fill="#e8f000"/>
<path d="M197.9 108.2L199.8 111.8L196.0 111.8Z" fill="#e8f000"/>
<path d="M197.9 110.8L199.8 114.3L196.0 114.3Z" fill="#e8f000"/>
<path d="M197.9 133.2L199.8 136.8L196.0 136.8Z" fill="#e8f000"/>
<path d="M197.9 137.8L199.8 141.2L196.0 141.2Z" fill="#e8f000"/>
<path d="M197.9 140.8L199.8 144.2L196.0 144.2Z" fill="#e8f000"/>
<path d="M197.9 143.4L199.8 146.9L196.0 146.9Z" fill="#e8f000"/>
<path d="M197.9 150.8L199.8 154.3L196.0 154.3Z" fill="#e8f000"/>
<path d="M197.9 153.1L199.8 156.6L196.0 156.6Z" fill="#e8f000"/>
<path d="M197.9 167.8L199.8 171.2L196.0 171.2Z" fill="#e8f000"/>
<path d="M197.9 173.9L199.8 177.4L196.0 177.4Z" fill="#e8f000"/>
<path d="M197.9 178.8L199.8 182.2L196.0 182.2Z" fill="#e8f000"/>
<path d="M197.9 184.3L199.8 187.8L196.0 187.8Z" fill="#e8f000"/>
<path d="M197.9 201.8L199.8 205.2L196.0 205.2Z" fill="#e8f000"/>
<path d="M197.9 207.6L199.8 211.1L196.0 211.1Z" fill="#e8f000"/>
<path d="M197.9 237.2L199.8 240.8L196.0 240.8Z" fill="#e8f000"/>
<path d="M197.9 241.2L199.8 244.8L196.0 244.8Z" fill="#e8f000"/>
<path d="M197.9 248.3L199.8 251.8L196.0 251.8Z" fill="#e8f000"/>
<path d="M197.9 269.4L199.8 272.9L196.0 272.9Z" fill="#e8f000"/>
<path d="M197.9 115.2L199.8 118.8L196.0 118.8Z" fill="#e8f000"/>
<path d="M197.9 117.5L199.8 121.0L196.0 121.0Z" fill="#e8f000"/>
<path d="M197.9 119.7L199.8 123.2L196.0 123.2Z" fill="#e8f000"/>
<path d="M197.9 121.9L199.8 125.4L196.0 125.4Z" fill="#e8f000"/>
<path d="M197.9 124.1L199.8 127.6L196.0 127.6Z" fill="#e8f000"/>
<path d="M197.9 126.2L199.8 129.8L196.0 129.8Z" fill="#e8f000"/>
<path d="M197.9 128.4L199.8 131.9L196.0 131.9Z" fill="#e8f000"/>
<path d="M357.2 23.8L359.1 27.2L355.2 27.2Z" fill="#e8f000"/>
<path d="M357.2 39.6L359.1 43.1L355.2 43.1Z" fill="#e8f000"/>
<path d="M357.2 73.2L359.1 76.8L355.2 76.8Z" fill="#e8f000"/>
<path d="M357.2 95.2L359.1 98.7L355.2 98.7Z" fill="#e8f000"/>
<path d="M357.2 241.1L359.1 244.6L355.2 244.6Z" fill="#e8f000"/>
<path d="M302.50 369.55Q303.00 368.90 303.50 369.55L305.25 371.31Q305.90 371.80 305.25 372.30L303.50 374.06Q303.00 374.70 302.50 374.06L300.75 372.30Q300.10 371.80 300.75 371.31Z" fill="#0c0ccc"/>
<path d="M321.11 373.85Q321.60 373.20 322.10 373.85L323.86 375.61Q324.50 376.10 323.86 376.60L322.10 378.36Q321.60 379.00 321.11 378.36L319.35 376.60Q318.70 376.10 319.35 375.61Z" fill="#0c0ccc"/>
<path d="M336.61 367.94Q337.10 367.30 337.60 367.94L339.36 369.70Q340.00 370.20 339.36 370.69L337.60 372.45Q337.10 373.10 336.61 372.45L334.85 370.69Q334.20 370.20 334.85 369.70Z" fill="#0c0ccc"/>
<path d="M86.20 397.35Q86.70 396.70 87.20 397.35L88.95 399.11Q89.60 399.60 88.95 400.10L87.20 401.86Q86.70 402.50 86.20 401.86L84.45 400.10Q83.80 399.60 84.45 399.11Z" fill="#0c0ccc"/>
<path d="M68.80 407.25Q69.30 406.60 69.80 407.25L71.55 409.00Q72.20 409.50 71.55 410.00L69.80 411.75Q69.30 412.40 68.80 411.75L67.05 410.00Q66.40 409.50 67.05 409.00Z" fill="#0c0ccc"/>
<path d="M78.70 420.35Q79.20 419.70 79.70 420.35L81.45 422.11Q82.10 422.60 81.45 423.10L79.70 424.86Q79.20 425.50 78.70 424.86L76.95 423.10Q76.30 422.60 76.95 422.11Z" fill="#0c0ccc"/>
<path d="M86.20 418.85Q86.70 418.20 87.20 418.85L88.95 420.61Q89.60 421.10 88.95 421.60L87.20 423.36Q86.70 424.00 86.20 423.36L84.45 421.60Q83.80 421.10 84.45 420.61Z" fill="#0c0ccc"/>
<path d="M97.60 393.25Q98.10 392.60 98.59 393.25L100.35 395.00Q101.00 395.50 100.35 396.00L98.59 397.75Q98.10 398.40 97.60 397.75L95.84 396.00Q95.20 395.50 95.84 395.00Z" fill="#0c0ccc"/>
<path d="M112.10 399.64Q112.60 399.00 113.09 399.64L114.85 401.40Q115.50 401.90 114.85 402.39L113.09 404.15Q112.60 404.80 112.10 404.15L110.34 402.39Q109.70 401.90 110.34 401.40Z" fill="#0c0ccc"/>
<path d="M133.20 402.75Q133.70 402.10 134.19 402.75L135.95 404.50Q136.60 405.00 135.95 405.50L134.19 407.25Q133.70 407.90 133.20 407.25L131.44 405.50Q130.80 405.00 131.44 404.50Z" fill="#0c0ccc"/>
<path d="M146.81 389.35Q147.30 388.70 147.80 389.35L149.56 391.11Q150.20 391.60 149.56 392.10L147.80 393.86Q147.30 394.50 146.81 393.86L145.05 392.10Q144.40 391.60 145.05 391.11Z" fill="#0c0ccc"/>
<path d="M134.60 402.75Q135.10 402.10 135.59 402.75L137.35 404.50Q138.00 405.00 137.35 405.50L135.59 407.25Q135.10 407.90 134.60 407.25L132.84 405.50Q132.20 405.00 132.84 404.50Z" fill="#0c0ccc"/>
<path d="M154.00 400.64Q154.50 400.00 155.00 400.64L156.75 402.40Q157.40 402.90 156.75 403.39L155.00 405.15Q154.50 405.80 154.00 405.15L152.25 403.39Q151.60 402.90 152.25 402.40Z" fill="#0c0ccc"/>
<path d="M162.41 396.05Q162.90 395.40 163.40 396.05L165.16 397.81Q165.80 398.30 165.16 398.80L163.40 400.56Q162.90 401.20 162.41 400.56L160.65 398.80Q160.00 398.30 160.65 397.81Z" fill="#0c0ccc"/>
<path d="M161.41 402.94Q161.90 402.30 162.40 402.94L164.16 404.70Q164.80 405.20 164.16 405.69L162.40 407.45Q161.90 408.10 161.41 407.45L159.65 405.69Q159.00 405.20 159.65 404.70Z" fill="#0c0ccc"/>
<path d="M139.70 408.94Q140.20 408.30 140.69 408.94L142.45 410.70Q143.10 411.20 142.45 411.69L140.69 413.45Q140.20 414.10 139.70 413.45L137.94 411.69Q137.30 411.20 137.94 410.70Z" fill="#0c0ccc"/>
<path d="M181.41 400.44Q181.90 399.80 182.40 400.44L184.16 402.20Q184.80 402.70 184.16 403.19L182.40 404.95Q181.90 405.60 181.41 404.95L179.65 403.19Q179.00 402.70 179.65 402.20Z" fill="#0c0ccc"/>
<path d="M207.60 403.25Q208.10 402.60 208.59 403.25L210.35 405.00Q211.00 405.50 210.35 406.00L208.59 407.75Q208.10 408.40 207.60 407.75L205.84 406.00Q205.20 405.50 205.84 405.00Z" fill="#0c0ccc"/>
<path d="M205.60 407.35Q206.10 406.70 206.59 407.35L208.35 409.11Q209.00 409.60 208.35 410.10L206.59 411.86Q206.10 412.50 205.60 411.86L203.84 410.10Q203.20 409.60 203.84 409.11Z" fill="#0c0ccc"/>
<path d="M209.00 402.75Q209.50 402.10 210.00 402.75L211.75 404.50Q212.40 405.00 211.75 405.50L210.00 407.25Q209.50 407.90 209.00 407.25L207.25 405.50Q206.60 405.00 207.25 404.50Z" fill="#0c0ccc"/>
<path d="M211.60 405.85Q212.10 405.20 212.59 405.85L214.35 407.61Q215.00 408.10 214.35 408.60L212.59 410.36Q212.10 411.00 211.60 410.36L209.84 408.60Q209.20 408.10 209.84 407.61Z" fill="#0c0ccc"/>
<path d="M208.50 408.44Q209.00 407.80 209.50 408.44L211.25 410.20Q211.90 410.70 211.25 411.19L209.50 412.95Q209.00 413.60 208.50 412.95L206.75 411.19Q206.10 410.70 206.75 410.20Z" fill="#0c0ccc"/>
<path d="M260.50 384.14Q261.00 383.50 261.50 384.14L263.25 385.90Q263.90 386.40 263.25 386.89L261.50 388.65Q261.00 389.30 260.50 388.65L258.75 386.89Q258.10 386.40 258.75 385.90Z" fill="#0c0ccc"/>
<path d="M273.31 383.14Q273.80 382.50 274.30 383.14L276.06 384.90Q276.70 385.40 276.06 385.89L274.30 387.65Q273.80 388.30 273.31 387.65L271.55 385.89Q270.90 385.40 271.55 384.90Z" fill="#0c0ccc"/>
<path d="M271.81 386.25Q272.30 385.60 272.80 386.25L274.56 388.00Q275.20 388.50 274.56 389.00L272.80 390.75Q272.30 391.40 271.81 390.75L270.05 389.00Q269.40 388.50 270.05 388.00Z" fill="#0c0ccc"/>
<path d="M269.20 387.75Q269.70 387.10 270.19 387.75L271.95 389.50Q272.60 390.00 271.95 390.50L270.19 392.25Q269.70 392.90 269.20 392.25L267.44 390.50Q266.80 390.00 267.44 389.50Z" fill="#0c0ccc"/>
<path d="M266.11 389.35Q266.60 388.70 267.10 389.35L268.86 391.11Q269.50 391.60 268.86 392.10L267.10 393.86Q266.60 394.50 266.11 393.86L264.35 392.10Q263.70 391.60 264.35 391.11Z" fill="#0c0ccc"/>
<path d="M258.90 387.75Q259.40 387.10 259.89 387.75L261.65 389.50Q262.30 390.00 261.65 390.50L259.89 392.25Q259.40 392.90 258.90 392.25L257.14 390.50Q256.50 390.00 257.14 389.50Z" fill="#0c0ccc"/>
<path d="M256.31 390.85Q256.80 390.20 257.30 390.85L259.06 392.61Q259.70 393.10 259.06 393.60L257.30 395.36Q256.80 396.00 256.31 395.36L254.55 393.60Q253.90 393.10 254.55 392.61Z" fill="#0c0ccc"/>
<path d="M253.20 393.44Q253.70 392.80 254.19 393.44L255.95 395.20Q256.60 395.70 255.95 396.19L254.19 397.95Q253.70 398.60 253.20 397.95L251.44 396.19Q250.80 395.70 251.44 395.20Z" fill="#0c0ccc"/>
<path d="M250.10 396.05Q250.60 395.40 251.09 396.05L252.85 397.81Q253.50 398.30 252.85 398.80L251.09 400.56Q250.60 401.20 250.10 400.56L248.34 398.80Q247.70 398.30 248.34 397.81Z" fill="#0c0ccc"/>
<path d="M249.60 402.75Q250.10 402.10 250.59 402.75L252.35 404.50Q253.00 405.00 252.35 405.50L250.59 407.25Q250.10 407.90 249.60 407.25L247.84 405.50Q247.20 405.00 247.84 404.50Z" fill="#0c0ccc"/>
<path d="M251.70 404.85Q252.20 404.20 252.69 404.85L254.45 406.61Q255.10 407.10 254.45 407.60L252.69 409.36Q252.20 410.00 251.70 409.36L249.94 407.60Q249.30 407.10 249.94 406.61Z" fill="#0c0ccc"/>
<path d="M254.31 398.64Q254.80 398.00 255.30 398.64L257.06 400.40Q257.70 400.90 257.06 401.39L255.30 403.15Q254.80 403.80 254.31 403.15L252.55 401.39Q251.90 400.90 252.55 400.40Z" fill="#0c0ccc"/>
<path d="M256.31 400.64Q256.80 400.00 257.30 400.64L259.06 402.40Q259.70 402.90 259.06 403.39L257.30 405.15Q256.80 405.80 256.31 405.15L254.55 403.39Q253.90 402.90 254.55 402.40Z" fill="#0c0ccc"/>
<path d="M257.90 403.25Q258.40 402.60 258.89 403.25L260.65 405.00Q261.30 405.50 260.65 406.00L258.89 407.75Q258.40 408.40 257.90 407.75L256.14 406.00Q255.50 405.50 256.14 405.00Z" fill="#0c0ccc"/>
<path d="M262.00 392.44Q262.50 391.80 263.00 392.44L264.75 394.20Q265.40 394.70 264.75 395.19L263.00 396.95Q262.50 397.60 262.00 396.95L260.25 395.19Q259.60 394.70 260.25 394.20Z" fill="#0c0ccc"/>
<path d="M265.11 394.44Q265.60 393.80 266.10 394.44L267.86 396.20Q268.50 396.70 267.86 397.19L266.10 398.95Q265.60 399.60 265.11 398.95L263.35 397.19Q262.70 396.70 263.35 396.20Z" fill="#0c0ccc"/>
<path d="M267.70 391.35Q268.20 390.70 268.69 391.35L270.45 393.11Q271.10 393.60 270.45 394.10L268.69 395.86Q268.20 396.50 267.70 395.86L265.94 394.10Q265.30 393.60 265.94 393.11Z" fill="#0c0ccc"/>
<path d="M271.31 390.35Q271.80 389.70 272.30 390.35L274.06 392.11Q274.70 392.60 274.06 393.10L272.30 394.86Q271.80 395.50 271.31 394.86L269.55 393.10Q268.90 392.60 269.55 392.11Z" fill="#0c0ccc"/>
<path d="M273.90 387.75Q274.40 387.10 274.89 387.75L276.65 389.50Q277.30 390.00 276.65 390.50L274.89 392.25Q274.40 392.90 273.90 392.25L272.14 390.50Q271.50 390.00 272.14 389.50Z" fill="#0c0ccc"/>
<path d="M268.70 397.55Q269.20 396.90 269.69 397.55L271.45 399.31Q272.10 399.80 271.45 400.30L269.69 402.06Q269.20 402.70 268.70 402.06L266.94 400.30Q266.30 399.80 266.94 399.31Z" fill="#0c0ccc"/>
<path d="M269.70 400.64Q270.20 400.00 270.69 400.64L272.45 402.40Q273.10 402.90 272.45 403.39L270.69 405.15Q270.20 405.80 269.70 405.15L267.94 403.39Q267.30 402.90 267.94 402.40Z" fill="#0c0ccc"/>
<path d="M267.11 402.75Q267.60 402.10 268.10 402.75L269.86 404.50Q270.50 405.00 269.86 405.50L268.10 407.25Q267.60 407.90 267.11 407.25L265.35 405.50Q264.70 405.00 265.35 404.50Z" fill="#0c0ccc"/>
<path d="M273.90 396.05Q274.40 395.40 274.89 396.05L276.65 397.81Q277.30 398.30 276.65 398.80L274.89 400.56Q274.40 401.20 273.90 400.56L272.14 398.80Q271.50 398.30 272.14 397.81Z" fill="#0c0ccc"/>
<path d="M276.40 396.55Q276.90 395.90 277.39 396.55L279.15 398.31Q279.80 398.80 279.15 399.30L277.39 401.06Q276.90 401.70 276.40 401.06L274.64 399.30Q274.00 398.80 274.64 398.31Z" fill="#0c0ccc"/>
<path d="M280.50 388.35Q281.00 387.70 281.50 388.35L283.25 390.11Q283.90 390.60 283.25 391.10L281.50 392.86Q281.00 393.50 280.50 392.86L278.75 391.10Q278.10 390.60 278.75 390.11Z" fill="#0c0ccc"/>
<path d="M282.61 392.44Q283.10 391.80 283.60 392.44L285.36 394.20Q286.00 394.70 285.36 395.19L283.60 396.95Q283.10 397.60 282.61 396.95L280.85 395.19Q280.20 394.70 280.85 394.20Z" fill="#0c0ccc"/>
<path d="M284.20 390.85Q284.70 390.20 285.19 390.85L286.95 392.61Q287.60 393.10 286.95 393.60L285.19 395.36Q284.70 396.00 284.20 395.36L282.44 393.60Q281.80 393.10 282.44 392.61Z" fill="#0c0ccc"/>
<path d="M275.40 385.25Q275.90 384.60 276.39 385.25L278.15 387.00Q278.80 387.50 278.15 388.00L276.39 389.75Q275.90 390.40 275.40 389.75L273.64 388.00Q273.00 387.50 273.64 387.00Z" fill="#0c0ccc"/>
<path d="M301.00 377.44Q301.50 376.80 302.00 377.44L303.75 379.20Q304.40 379.70 303.75 380.19L302.00 381.95Q301.50 382.60 301.00 381.95L299.25 380.19Q298.60 379.70 299.25 379.20Z" fill="#0c0ccc"/>
<path d="M304.11 379.05Q304.60 378.40 305.10 379.05L306.86 380.81Q307.50 381.30 306.86 381.80L305.10 383.56Q304.60 384.20 304.11 383.56L302.35 381.80Q301.70 381.30 302.35 380.81Z" fill="#0c0ccc"/>
<path d="M301.50 380.05Q302.00 379.40 302.50 380.05L304.25 381.81Q304.90 382.30 304.25 382.80L302.50 384.56Q302.00 385.20 301.50 384.56L299.75 382.80Q299.10 382.30 299.75 381.81Z" fill="#0c0ccc"/>
<path d="M302.11 382.64Q302.60 382.00 303.10 382.64L304.86 384.40Q305.50 384.90 304.86 385.39L303.10 387.15Q302.60 387.80 302.11 387.15L300.35 385.39Q299.70 384.90 300.35 384.40Z" fill="#0c0ccc"/>
<path d="M302.61 386.25Q303.10 385.60 303.60 386.25L305.36 388.00Q306.00 388.50 305.36 389.00L303.60 390.75Q303.10 391.40 302.61 390.75L300.85 389.00Q300.20 388.50 300.85 388.00Z" fill="#0c0ccc"/>
<path d="M323.50 380.05Q324.00 379.40 324.50 380.05L326.25 381.81Q326.90 382.30 326.25 382.80L324.50 384.56Q324.00 385.20 323.50 384.56L321.75 382.80Q321.10 382.30 321.75 381.81Z" fill="#0c0ccc"/>
<path d="M318.61 385.25Q319.10 384.60 319.60 385.25L321.36 387.00Q322.00 387.50 321.36 388.00L319.60 389.75Q319.10 390.40 318.61 389.75L316.85 388.00Q316.20 387.50 316.85 387.00Z" fill="#0c0ccc"/>
<path d="M291.70 386.75Q292.20 386.10 292.69 386.75L294.45 388.50Q295.10 389.00 294.45 389.50L292.69 391.25Q292.20 391.90 291.70 391.25L289.94 389.50Q289.30 389.00 289.94 388.50Z" fill="#0c0ccc"/>
<path d="M289.70 389.85Q290.20 389.20 290.69 389.85L292.45 391.61Q293.10 392.10 292.45 392.60L290.69 394.36Q290.20 395.00 289.70 394.36L287.94 392.60Q287.30 392.10 287.94 391.61Z" fill="#0c0ccc"/>
<path d="M285.00 388.85Q285.50 388.20 286.00 388.85L287.75 390.61Q288.40 391.10 287.75 391.60L286.00 393.36Q285.50 394.00 285.00 393.36L283.25 391.60Q282.60 391.10 283.25 390.61Z" fill="#0c0ccc"/>
<path d="M284.50 392.94Q285.00 392.30 285.50 392.94L287.25 394.70Q287.90 395.20 287.25 395.69L285.50 397.45Q285.00 398.10 284.50 397.45L282.75 395.69Q282.10 395.20 282.75 394.70Z" fill="#0c0ccc"/>
<path d="M112.70 422.14Q113.20 421.50 113.70 422.14L115.45 423.90Q116.10 424.40 115.45 424.89L113.70 426.65Q113.20 427.30 112.70 426.65L110.95 424.89Q110.30 424.40 110.95 423.90Z" fill="#0c0ccc"/>
<path d="M118.50 411.14Q119.00 410.50 119.50 411.14L121.25 412.90Q121.90 413.40 121.25 413.89L119.50 415.65Q119.00 416.30 118.50 415.65L116.75 413.89Q116.10 413.40 116.75 412.90Z" fill="#0c0ccc"/>
<path d="M124.91 414.85Q125.40 414.20 125.90 414.85L127.66 416.61Q128.30 417.10 127.66 417.60L125.90 419.36Q125.40 420.00 124.91 419.36L123.15 417.60Q122.50 417.10 123.15 416.61Z" fill="#0c0ccc"/>
<path d="M133.70 411.75Q134.20 411.10 134.69 411.75L136.45 413.50Q137.10 414.00 136.45 414.50L134.69 416.25Q134.20 416.90 133.70 416.25L131.94 414.50Q131.30 414.00 131.94 413.50Z" fill="#0c0ccc"/>
<path d="M136.20 411.44Q136.70 410.80 137.19 411.44L138.95 413.20Q139.60 413.70 138.95 414.19L137.19 415.95Q136.70 416.60 136.20 415.95L134.44 414.19Q133.80 413.70 134.44 413.20Z" fill="#0c0ccc"/>
<path d="M146.60 411.14Q147.10 410.50 147.59 411.14L149.35 412.90Q150.00 413.40 149.35 413.89L147.59 415.65Q147.10 416.30 146.60 415.65L144.84 413.89Q144.20 413.40 144.84 412.90Z" fill="#0c0ccc"/>
<path d="M148.10 415.64Q148.60 415.00 149.09 415.64L150.85 417.40Q151.50 417.90 150.85 418.39L149.09 420.15Q148.60 420.80 148.10 420.15L146.34 418.39Q145.70 417.90 146.34 417.40Z" fill="#0c0ccc"/>
<path d="M116.50 422.55Q117.00 421.90 117.50 422.55L119.25 424.31Q119.90 424.80 119.25 425.30L117.50 427.06Q117.00 427.70 116.50 427.06L114.75 425.30Q114.10 424.80 114.75 424.31Z" fill="#0c0ccc"/>
<path d="M131.10 423.35Q131.60 422.70 132.09 423.35L133.85 425.11Q134.50 425.60 133.85 426.10L132.09 427.86Q131.60 428.50 131.10 427.86L129.34 426.10Q128.70 425.60 129.34 425.11Z" fill="#0c0ccc"/>
<path d="M145.50 419.75Q146.00 419.10 146.50 419.75L148.25 421.50Q148.90 422.00 148.25 422.50L146.50 424.25Q146.00 424.90 145.50 424.25L143.75 422.50Q143.10 422.00 143.75 421.50Z" fill="#0c0ccc"/>
<path d="M147.10 422.35Q147.60 421.70 148.09 422.35L149.85 424.11Q150.50 424.60 149.85 425.10L148.09 426.86Q147.60 427.50 147.10 426.86L145.34 425.10Q144.70 424.60 145.34 424.11Z" fill="#0c0ccc"/>
<path d="M146.60 426.94Q147.10 426.30 147.59 426.94L149.35 428.70Q150.00 429.20 149.35 429.69L147.59 431.45Q147.10 432.10 146.60 431.45L144.84 429.69Q144.20 429.20 144.84 428.70Z" fill="#0c0ccc"/>
<path d="M122.30 428.44Q122.80 427.80 123.30 428.44L125.05 430.20Q125.70 430.70 125.05 431.19L123.30 432.95Q122.80 433.60 122.30 432.95L120.55 431.19Q119.90 430.70 120.55 430.20Z" fill="#0c0ccc"/>
<path d="M134.41 427.94Q134.90 427.30 135.40 427.94L137.16 429.70Q137.80 430.20 137.16 430.69L135.40 432.45Q134.90 433.10 134.41 432.45L132.65 430.69Q132.00 430.20 132.65 429.70Z" fill="#0c0ccc"/>
<path d="M138.31 427.44Q138.80 426.80 139.30 427.44L141.06 429.20Q141.70 429.70 141.06 430.19L139.30 431.95Q138.80 432.60 138.31 431.95L136.55 430.19Q135.90 429.70 136.55 429.20Z" fill="#0c0ccc"/>
<path d="M140.91 429.05Q141.40 428.40 141.90 429.05L143.66 430.81Q144.30 431.30 143.66 431.80L141.90 433.56Q141.40 434.20 140.91 433.56L139.15 431.80Q138.50 431.30 139.15 430.81Z" fill="#0c0ccc"/>
<path d="M120.30 434.14Q120.80 433.50 121.30 434.14L123.05 435.90Q123.70 436.40 123.05 436.89L121.30 438.65Q120.80 439.30 120.30 438.65L118.55 436.89Q117.90 436.40 118.55 435.90Z" fill="#0c0ccc"/>
<path d="M142.41 435.14Q142.90 434.50 143.40 435.14L145.16 436.90Q145.80 437.40 145.16 437.89L143.40 439.65Q142.90 440.30 142.41 439.65L140.65 437.89Q140.00 437.40 140.65 436.90Z" fill="#0c0ccc"/>
<path d="M147.81 434.64Q148.30 434.00 148.80 434.64L150.56 436.40Q151.20 436.90 150.56 437.39L148.80 439.15Q148.30 439.80 147.81 439.15L146.05 437.39Q145.40 436.90 146.05 436.40Z" fill="#0c0ccc"/>
<path d="M153.60 410.94Q154.10 410.30 154.59 410.94L156.35 412.70Q157.00 413.20 156.35 413.69L154.59 415.45Q154.10 416.10 153.60 415.45L151.84 413.69Q151.20 413.20 151.84 412.70Z" fill="#0c0ccc"/>
<path d="M167.20 412.85Q167.70 412.20 168.19 412.85L169.95 414.61Q170.60 415.10 169.95 415.60L168.19 417.36Q167.70 418.00 167.20 417.36L165.44 415.60Q164.80 415.10 165.44 414.61Z" fill="#0c0ccc"/>
<path d="M152.60 424.35Q153.10 423.70 153.59 424.35L155.35 426.11Q156.00 426.60 155.35 427.10L153.59 428.86Q153.10 429.50 152.60 428.86L150.84 427.10Q150.20 426.60 150.84 426.11Z" fill="#0c0ccc"/>
<path d="M158.31 425.35Q158.80 424.70 159.30 425.35L161.06 427.11Q161.70 427.60 161.06 428.10L159.30 429.86Q158.80 430.50 158.31 429.86L156.55 428.10Q155.90 427.60 156.55 427.11Z" fill="#0c0ccc"/>
<path d="M160.81 423.85Q161.30 423.20 161.80 423.85L163.56 425.61Q164.20 426.10 163.56 426.60L161.80 428.36Q161.30 429.00 160.81 428.36L159.05 426.60Q158.40 426.10 159.05 425.61Z" fill="#0c0ccc"/>
<path d="M166.50 424.35Q167.00 423.70 167.50 424.35L169.25 426.11Q169.90 426.60 169.25 427.10L167.50 428.86Q167.00 429.50 166.50 428.86L164.75 427.10Q164.10 426.60 164.75 426.11Z" fill="#0c0ccc"/>
<path d="M165.50 426.94Q166.00 426.30 166.50 426.94L168.25 428.70Q168.90 429.20 168.25 429.69L166.50 431.45Q166.00 432.10 165.50 431.45L163.75 429.69Q163.10 429.20 163.75 428.70Z" fill="#0c0ccc"/>
<path d="M164.50 429.55Q165.00 428.90 165.50 429.55L167.25 431.31Q167.90 431.80 167.25 432.30L165.50 434.06Q165.00 434.70 164.50 434.06L162.75 432.30Q162.10 431.80 162.75 431.31Z" fill="#0c0ccc"/>
<path d="M152.60 431.55Q153.10 430.90 153.59 431.55L155.35 433.31Q156.00 433.80 155.35 434.30L153.59 436.06Q153.10 436.70 152.60 436.06L150.84 434.30Q150.20 433.80 150.84 433.31Z" fill="#0c0ccc"/>
<path d="M158.31 431.05Q158.80 430.40 159.30 431.05L161.06 432.81Q161.70 433.30 161.06 433.80L159.30 435.56Q158.80 436.20 158.31 435.56L156.55 433.80Q155.90 433.30 156.55 432.81Z" fill="#0c0ccc"/>
<path d="M156.20 433.64Q156.70 433.00 157.19 433.64L158.95 435.40Q159.60 435.90 158.95 436.39L157.19 438.15Q156.70 438.80 156.20 438.15L154.44 436.39Q153.80 435.90 154.44 435.40Z" fill="#0c0ccc"/>
<path d="M162.41 436.75Q162.90 436.10 163.40 436.75L165.16 438.50Q165.80 439.00 165.16 439.50L163.40 441.25Q162.90 441.90 162.41 441.25L160.65 439.50Q160.00 439.00 160.65 438.50Z" fill="#0c0ccc"/>
<path d="M155.70 438.25Q156.20 437.60 156.69 438.25L158.45 440.00Q159.10 440.50 158.45 441.00L156.69 442.75Q156.20 443.40 155.70 442.75L153.94 441.00Q153.30 440.50 153.94 440.00Z" fill="#0c0ccc"/>
<path d="M174.20 432.14Q174.70 431.50 175.19 432.14L176.95 433.90Q177.60 434.40 176.95 434.89L175.19 436.65Q174.70 437.30 174.20 436.65L172.44 434.89Q171.80 434.40 172.44 433.90Z" fill="#0c0ccc"/>
<path d="M176.81 431.05Q177.30 430.40 177.80 431.05L179.56 432.81Q180.20 433.30 179.56 433.80L177.80 435.56Q177.30 436.20 176.81 435.56L175.05 433.80Q174.40 433.30 175.05 432.81Z" fill="#0c0ccc"/>
<path d="M180.41 431.55Q180.90 430.90 181.40 431.55L183.16 433.31Q183.80 433.80 183.16 434.30L181.40 436.06Q180.90 436.70 180.41 436.06L178.65 434.30Q178.00 433.80 178.65 433.31Z" fill="#0c0ccc"/>
<path d="M185.60 434.14Q186.10 433.50 186.59 434.14L188.35 435.90Q189.00 436.40 188.35 436.89L186.59 438.65Q186.10 439.30 185.60 438.65L183.84 436.89Q183.20 436.40 183.84 435.90Z" fill="#0c0ccc"/>
<path d="M188.20 433.64Q188.70 433.00 189.19 433.64L190.95 435.40Q191.60 435.90 190.95 436.39L189.19 438.15Q188.70 438.80 188.20 438.15L186.44 436.39Q185.80 435.90 186.44 435.40Z" fill="#0c0ccc"/>
<path d="M179.91 422.85Q180.40 422.20 180.90 422.85L182.66 424.61Q183.30 425.10 182.66 425.60L180.90 427.36Q180.40 428.00 179.91 427.36L178.15 425.60Q177.50 425.10 178.15 424.61Z" fill="#0c0ccc"/>
<path d="M188.70 420.25Q189.20 419.60 189.69 420.25L191.45 422.00Q192.10 422.50 191.45 423.00L189.69 424.75Q189.20 425.40 188.70 424.75L186.94 423.00Q186.30 422.50 186.94 422.00Z" fill="#0c0ccc"/>
<path d="M176.31 440.35Q176.80 439.70 177.30 440.35L179.06 442.11Q179.70 442.60 179.06 443.10L177.30 444.86Q176.80 445.50 176.31 444.86L174.55 443.10Q173.90 442.60 174.55 442.11Z" fill="#0c0ccc"/>
<path d="M159.81 442.44Q160.30 441.80 160.80 442.44L162.56 444.20Q163.20 444.70 162.56 445.19L160.80 446.95Q160.30 447.60 159.81 446.95L158.05 445.19Q157.40 444.70 158.05 444.20Z" fill="#0c0ccc"/>
<path d="M204.00 410.44Q204.50 409.80 205.00 410.44L206.75 412.20Q207.40 412.70 206.75 413.19L205.00 414.95Q204.50 415.60 204.00 414.95L202.25 413.19Q201.60 412.70 202.25 412.20Z" fill="#0c0ccc"/>
<path d="M218.41 413.05Q218.90 412.40 219.40 413.05L221.16 414.81Q221.80 415.30 221.16 415.80L219.40 417.56Q218.90 418.20 218.41 417.56L216.65 415.80Q216.00 415.30 216.65 414.81Z" fill="#0c0ccc"/>
<path d="M222.60 413.05Q223.10 412.40 223.59 413.05L225.35 414.81Q226.00 415.30 225.35 415.80L223.59 417.56Q223.10 418.20 222.60 417.56L220.84 415.80Q220.20 415.30 220.84 414.81Z" fill="#0c0ccc"/>
<path d="M206.10 414.55Q206.60 413.90 207.09 414.55L208.85 416.31Q209.50 416.80 208.85 417.30L207.09 419.06Q206.60 419.70 206.10 419.06L204.34 417.30Q203.70 416.80 204.34 416.31Z" fill="#0c0ccc"/>
<path d="M197.81 416.14Q198.30 415.50 198.80 416.14L200.56 417.90Q201.20 418.40 200.56 418.89L198.80 420.65Q198.30 421.30 197.81 420.65L196.05 418.89Q195.40 418.40 196.05 417.90Z" fill="#0c0ccc"/>
<path d="M200.91 419.25Q201.40 418.60 201.90 419.25L203.66 421.00Q204.30 421.50 203.66 422.00L201.90 423.75Q201.40 424.40 200.91 423.75L199.15 422.00Q198.50 421.50 199.15 421.00Z" fill="#0c0ccc"/>
<path d="M203.50 421.75Q204.00 421.10 204.50 421.75L206.25 423.50Q206.90 424.00 206.25 424.50L204.50 426.25Q204.00 426.90 203.50 426.25L201.75 424.50Q201.10 424.00 201.75 423.50Z" fill="#0c0ccc"/>
<path d="M198.81 422.85Q199.30 422.20 199.80 422.85L201.56 424.61Q202.20 425.10 201.56 425.60L199.80 427.36Q199.30 428.00 198.81 427.36L197.05 425.60Q196.40 425.10 197.05 424.61Z" fill="#0c0ccc"/>
<path d="M211.20 420.25Q211.70 419.60 212.19 420.25L213.95 422.00Q214.60 422.50 213.95 423.00L212.19 424.75Q211.70 425.40 211.20 424.75L209.44 423.00Q208.80 422.50 209.44 422.00Z" fill="#0c0ccc"/>
<path d="M216.41 420.75Q216.90 420.10 217.40 420.75L219.16 422.50Q219.80 423.00 219.16 423.50L217.40 425.25Q216.90 425.90 216.41 425.25L214.65 423.50Q214.00 423.00 214.65 422.50Z" fill="#0c0ccc"/>
<path d="M222.60 424.85Q223.10 424.20 223.59 424.85L225.35 426.61Q226.00 427.10 225.35 427.60L223.59 429.36Q223.10 430.00 222.60 429.36L220.84 427.60Q220.20 427.10 220.84 426.61Z" fill="#0c0ccc"/>
<path d="M195.70 425.94Q196.20 425.30 196.69 425.94L198.45 427.70Q199.10 428.20 198.45 428.69L196.69 430.45Q196.20 431.10 195.70 430.45L193.94 428.69Q193.30 428.20 193.94 427.70Z" fill="#0c0ccc"/>
<path d="M193.70 429.05Q194.20 428.40 194.69 429.05L196.45 430.81Q197.10 431.30 196.45 431.80L194.69 433.56Q194.20 434.20 193.70 433.56L191.94 431.80Q191.30 431.30 191.94 430.81Z" fill="#0c0ccc"/>
<path d="M197.31 429.05Q197.80 428.40 198.30 429.05L200.06 430.81Q200.70 431.30 200.06 431.80L198.30 433.56Q197.80 434.20 197.31 433.56L195.55 431.80Q194.90 431.30 195.55 430.81Z" fill="#0c0ccc"/>
<path d="M203.50 429.55Q204.00 428.90 204.50 429.55L206.25 431.31Q206.90 431.80 206.25 432.30L204.50 434.06Q204.00 434.70 203.50 434.06L201.75 432.30Q201.10 431.80 201.75 431.31Z" fill="#0c0ccc"/>
<path d="M195.20 431.55Q195.70 430.90 196.19 431.55L197.95 433.31Q198.60 433.80 197.95 434.30L196.19 436.06Q195.70 436.70 195.20 436.06L193.44 434.30Q192.80 433.80 193.44 433.31Z" fill="#0c0ccc"/>
<path d="M199.91 434.14Q200.40 433.50 200.90 434.14L202.66 435.90Q203.30 436.40 202.66 436.89L200.90 438.65Q200.40 439.30 199.91 438.65L198.15 436.89Q197.50 436.40 198.15 435.90Z" fill="#0c0ccc"/>
<path d="M189.60 435.75Q190.10 435.10 190.59 435.75L192.35 437.50Q193.00 438.00 192.35 438.50L190.59 440.25Q190.10 440.90 189.60 440.25L187.84 438.50Q187.20 438.00 187.84 437.50Z" fill="#0c0ccc"/>
<path d="M211.20 432.64Q211.70 432.00 212.19 432.64L213.95 434.40Q214.60 434.90 213.95 435.39L212.19 437.15Q211.70 437.80 211.20 437.15L209.44 435.39Q208.80 434.90 209.44 434.40Z" fill="#0c0ccc"/>
<path d="M226.20 430.55Q226.70 429.90 227.19 430.55L228.95 432.31Q229.60 432.80 228.95 433.30L227.19 435.06Q226.70 435.70 226.20 435.06L224.44 433.30Q223.80 432.80 224.44 432.31Z" fill="#0c0ccc"/>
<path d="M249.70 401.25Q250.20 400.60 250.69 401.25L252.45 403.00Q253.10 403.50 252.45 404.00L250.69 405.75Q250.20 406.40 249.70 405.75L247.94 404.00Q247.30 403.50 247.94 403.00Z" fill="#0c0ccc"/>
<path d="M256.40 403.35Q256.90 402.70 257.39 403.35L259.15 405.11Q259.80 405.60 259.15 406.10L257.39 407.86Q256.90 408.50 256.40 407.86L254.64 406.10Q254.00 405.60 254.64 405.11Z" fill="#0c0ccc"/>
<path d="M243.50 415.25Q244.00 414.60 244.50 415.25L246.25 417.00Q246.90 417.50 246.25 418.00L244.50 419.75Q244.00 420.40 243.50 419.75L241.75 418.00Q241.10 417.50 241.75 417.00Z" fill="#0c0ccc"/>
<path d="M233.20 418.14Q233.70 417.50 234.19 418.14L235.95 419.90Q236.60 420.40 235.95 420.89L234.19 422.65Q233.70 423.30 233.20 422.65L231.44 420.89Q230.80 420.40 231.44 419.90Z" fill="#0c0ccc"/>
<path d="M157.41 435.05Q157.90 434.40 158.40 435.05L160.16 436.81Q160.80 437.30 160.16 437.80L158.40 439.56Q157.90 440.20 157.41 439.56L155.65 437.80Q155.00 437.30 155.65 436.81Z" fill="#0c0ccc"/>
<path d="M153.31 452.85Q153.80 452.20 154.30 452.85L156.06 454.61Q156.70 455.10 156.06 455.60L154.30 457.36Q153.80 458.00 153.31 457.36L151.55 455.60Q150.90 455.10 151.55 454.61Z" fill="#0c0ccc"/>
<path d="M230.70 391.05Q231.20 390.40 231.69 391.05L233.45 392.81Q234.10 393.30 233.45 393.80L231.69 395.56Q231.20 396.20 230.70 395.56L228.94 393.80Q228.30 393.30 228.94 392.81Z" fill="#0c0ccc"/>
<path d="M219.50 397.75Q220.00 397.10 220.50 397.75L222.25 399.50Q222.90 400.00 222.25 400.50L220.50 402.25Q220.00 402.90 219.50 402.25L217.75 400.50Q217.10 400.00 217.75 399.50Z" fill="#0c0ccc"/>
<path d="M223.20 397.55Q223.70 396.90 224.19 397.55L225.95 399.31Q226.60 399.80 225.95 400.30L224.19 402.06Q223.70 402.70 223.20 402.06L221.44 400.30Q220.80 399.80 221.44 399.31Z" fill="#0c0ccc"/>
<path d="M232.10 397.05Q232.60 396.40 233.09 397.05L234.85 398.81Q235.50 399.30 234.85 399.80L233.09 401.56Q232.60 402.20 232.10 401.56L230.34 399.80Q229.70 399.30 230.34 398.81Z" fill="#0c0ccc"/>
<path d="M238.10 394.25Q238.60 393.60 239.09 394.25L240.85 396.00Q241.50 396.50 240.85 397.00L239.09 398.75Q238.60 399.40 238.10 398.75L236.34 397.00Q235.70 396.50 236.34 396.00Z" fill="#0c0ccc"/>
<path d="M243.20 394.75Q243.70 394.10 244.19 394.75L245.95 396.50Q246.60 397.00 245.95 397.50L244.19 399.25Q243.70 399.90 243.20 399.25L241.44 397.50Q240.80 397.00 241.44 396.50Z" fill="#0c0ccc"/>
<path d="M233.50 401.75Q234.00 401.10 234.50 401.75L236.25 403.50Q236.90 404.00 236.25 404.50L234.50 406.25Q234.00 406.90 233.50 406.25L231.75 404.50Q231.10 404.00 231.75 403.50Z" fill="#0c0ccc"/>
<path d="M236.70 398.94Q237.20 398.30 237.69 398.94L239.45 400.70Q240.10 401.20 239.45 401.69L237.69 403.45Q237.20 404.10 236.70 403.45L234.94 401.69Q234.30 401.20 234.94 400.70Z" fill="#0c0ccc"/>
<path d="M240.41 399.85Q240.90 399.20 241.40 399.85L243.16 401.61Q243.80 402.10 243.16 402.60L241.40 404.36Q240.90 405.00 240.41 404.36L238.65 402.60Q238.00 402.10 238.65 401.61Z" fill="#0c0ccc"/>
<path d="M244.10 397.94Q244.60 397.30 245.09 397.94L246.85 399.70Q247.50 400.20 246.85 400.69L245.09 402.45Q244.60 403.10 244.10 402.45L242.34 400.69Q241.70 400.20 242.34 399.70Z" fill="#0c0ccc"/>
<path d="M246.91 396.55Q247.40 395.90 247.90 396.55L249.66 398.31Q250.30 398.80 249.66 399.30L247.90 401.06Q247.40 401.70 246.91 401.06L245.15 399.30Q244.50 398.80 245.15 398.31Z" fill="#0c0ccc"/>
<path d="M231.10 404.05Q231.60 403.40 232.09 404.05L233.85 405.81Q234.50 406.30 233.85 406.80L232.09 408.56Q231.60 409.20 231.10 408.56L229.34 406.80Q228.70 406.30 229.34 405.81Z" fill="#0c0ccc"/>
<path d="M234.81 404.44Q235.30 403.80 235.80 404.44L237.56 406.20Q238.20 406.70 237.56 407.19L235.80 408.95Q235.30 409.60 234.81 408.95L233.05 407.19Q232.40 406.70 233.05 406.20Z" fill="#0c0ccc"/>
<path d="M239.00 403.05Q239.50 402.40 240.00 403.05L241.75 404.81Q242.40 405.30 241.75 405.80L240.00 407.56Q239.50 408.20 239.00 407.56L237.25 405.80Q236.60 405.30 237.25 404.81Z" fill="#0c0ccc"/>
<path d="M241.31 404.94Q241.80 404.30 242.30 404.94L244.06 406.70Q244.70 407.20 244.06 407.69L242.30 409.45Q241.80 410.10 241.31 409.45L239.55 407.69Q238.90 407.20 239.55 406.70Z" fill="#0c0ccc"/>
<path d="M245.00 402.64Q245.50 402.00 246.00 402.64L247.75 404.40Q248.40 404.90 247.75 405.39L246.00 407.15Q245.50 407.80 245.00 407.15L243.25 405.39Q242.60 404.90 243.25 404.40Z" fill="#0c0ccc"/>
<path d="M247.81 403.55Q248.30 402.90 248.80 403.55L250.56 405.31Q251.20 405.80 250.56 406.30L248.80 408.06Q248.30 408.70 247.81 408.06L246.05 406.30Q245.40 405.80 246.05 405.31Z" fill="#0c0ccc"/>
<path d="M215.81 406.35Q216.30 405.70 216.80 406.35L218.56 408.11Q219.20 408.60 218.56 409.10L216.80 410.86Q216.30 411.50 215.81 410.86L214.05 409.10Q213.40 408.60 214.05 408.11Z" fill="#0c0ccc"/>
<path d="M219.10 406.35Q219.60 405.70 220.09 406.35L221.85 408.11Q222.50 408.60 221.85 409.10L220.09 410.86Q219.60 411.50 219.10 410.86L217.34 409.10Q216.70 408.60 217.34 408.11Z" fill="#0c0ccc"/>
<path d="M224.60 405.44Q225.10 404.80 225.59 405.44L227.35 407.20Q228.00 407.70 227.35 408.19L225.59 409.95Q225.10 410.60 224.60 409.95L222.84 408.19Q222.20 407.70 222.84 407.20Z" fill="#0c0ccc"/>
<path d="M226.50 404.05Q227.00 403.40 227.50 404.05L229.25 405.81Q229.90 406.30 229.25 406.80L227.50 408.56Q227.00 409.20 226.50 408.56L224.75 406.80Q224.10 406.30 224.75 405.81Z" fill="#0c0ccc"/>
<path d="M223.20 408.64Q223.70 408.00 224.19 408.64L225.95 410.40Q226.60 410.90 225.95 411.39L224.19 413.15Q223.70 413.80 223.20 413.15L221.44 411.39Q220.80 410.90 221.44 410.40Z" fill="#0c0ccc"/>
<path d="M227.41 409.14Q227.90 408.50 228.40 409.14L230.16 410.90Q230.80 411.40 230.16 411.89L228.40 413.65Q227.90 414.30 227.41 413.65L225.65 411.89Q225.00 411.40 225.65 410.90Z" fill="#0c0ccc"/>
<path d="M231.10 408.64Q231.60 408.00 232.09 408.64L233.85 410.40Q234.50 410.90 233.85 411.39L232.09 413.15Q231.60 413.80 231.10 413.15L229.34 411.39Q228.70 410.90 229.34 410.40Z" fill="#0c0ccc"/>
<path d="M236.70 409.55Q237.20 408.90 237.69 409.55L239.45 411.31Q240.10 411.80 239.45 412.30L237.69 414.06Q237.20 414.70 236.70 414.06L234.94 412.30Q234.30 411.80 234.94 411.31Z" fill="#0c0ccc"/>
<path d="M220.00 409.55Q220.50 408.90 221.00 409.55L222.75 411.31Q223.40 411.80 222.75 412.30L221.00 414.06Q220.50 414.70 220.00 414.06L218.25 412.30Q217.60 411.80 218.25 411.31Z" fill="#0c0ccc"/>
<path d="M214.41 408.64Q214.90 408.00 215.40 408.64L217.16 410.40Q217.80 410.90 217.16 411.39L215.40 413.15Q214.90 413.80 214.41 413.15L212.65 411.39Q212.00 410.90 212.65 410.40Z" fill="#0c0ccc"/>
<rect x="72.1" y="371.6" width="4.0" height="4.0" fill="#a81cff"/>
<rect x="90.7" y="367.2" width="4.0" height="4.0" fill="#a81cff"/>
<rect x="61.0" y="392.8" width="4.0" height="4.0" fill="#a81cff"/>
<rect x="73.4" y="393.8" width="4.0" height="4.0" fill="#a81cff"/>
<rect x="77.9" y="395.6" width="4.0" height="4.0" fill="#a81cff"/>
<rect x="80.3" y="398.3" width="4.0" height="4.0" fill="#a81cff"/>
<rect x="90.9" y="402.6" width="4.0" height="4.0" fill="#a81cff"/>
<rect x="82.9" y="405.2" width="4.0" height="4.0" fill="#a81cff"/>
<rect x="71.0" y="408.3" width="4.0" height="4.0" fill="#a81cff"/>
<rect x="73.6" y="410.0" width="4.0" height="4.0" fill="#a81cff"/>
<rect x="78.5" y="410.0" width="4.0" height="4.0" fill="#a81cff"/>
<rect x="76.2" y="413.9" width="4.0" height="4.0" fill="#a81cff"/>
<rect x="80.6" y="414.4" width="4.0" height="4.0" fill="#a81cff"/>
<rect x="85.8" y="410.8" width="4.0" height="4.0" fill="#a81cff"/>
<rect x="85.8" y="413.9" width="4.0" height="4.0" fill="#a81cff"/>
<rect x="70.0" y="417.0" width="4.0" height="4.0" fill="#a81cff"/>
<rect x="73.6" y="419.1" width="4.0" height="4.0" fill="#a81cff"/>
<rect x="83.9" y="421.1" width="4.0" height="4.0" fill="#a81cff"/>
<rect x="84.9" y="384.5" width="4.0" height="4.0" fill="#a81cff"/>
<rect x="93.5" y="381.9" width="4.0" height="4.0" fill="#a81cff"/>
<rect x="99.7" y="380.8" width="4.0" height="4.0" fill="#a81cff"/>
<rect x="97.7" y="390.6" width="4.0" height="4.0" fill="#a81cff"/>
<rect x="106.4" y="396.8" width="4.0" height="4.0" fill="#a81cff"/>
<rect x="108.0" y="399.4" width="4.0" height="4.0" fill="#a81cff"/>
<rect x="107.5" y="404.0" width="4.0" height="4.0" fill="#a81cff"/>
<rect x="112.6" y="407.1" width="4.0" height="4.0" fill="#a81cff"/>
<rect x="116.2" y="402.8" width="4.0" height="4.0" fill="#a81cff"/>
<rect x="119.3" y="405.1" width="4.0" height="4.0" fill="#a81cff"/>
<rect x="122.4" y="399.9" width="4.0" height="4.0" fill="#a81cff"/>
<rect x="122.9" y="404.0" width="4.0" height="4.0" fill="#a81cff"/>
<rect x="124.0" y="393.2" width="4.0" height="4.0" fill="#a81cff"/>
<rect x="127.0" y="393.2" width="4.0" height="4.0" fill="#a81cff"/>
<rect x="131.2" y="397.3" width="4.0" height="4.0" fill="#a81cff"/>
<rect x="129.6" y="384.4" width="4.0" height="4.0" fill="#a81cff"/>
<rect x="146.7" y="379.5" width="4.0" height="4.0" fill="#a81cff"/>
<rect x="145.3" y="393.5" width="4.0" height="4.0" fill="#a81cff"/>
<rect x="135.2" y="405.6" width="4.0" height="4.0" fill="#a81cff"/>
<rect x="137.7" y="405.6" width="4.0" height="4.0" fill="#a81cff"/>
<rect x="150.6" y="405.1" width="4.0" height="4.0" fill="#a81cff"/>
<rect x="151.1" y="407.6" width="4.0" height="4.0" fill="#a81cff"/>
<rect x="155.8" y="406.6" width="4.0" height="4.0" fill="#a81cff"/>
<rect x="162.0" y="400.7" width="4.0" height="4.0" fill="#a81cff"/>
<rect x="164.0" y="407.1" width="4.0" height="4.0" fill="#a81cff"/>
<rect x="140.3" y="408.7" width="4.0" height="4.0" fill="#a81cff"/>
<rect x="179.5" y="404.8" width="4.0" height="4.0" fill="#a81cff"/>
<rect x="170.1" y="409.2" width="4.0" height="4.0" fill="#a81cff"/>
<rect x="241.0" y="409.2" width="4.0" height="4.0" fill="#a81cff"/>
<rect x="261.3" y="405.9" width="4.0" height="4.0" fill="#a81cff"/>
<rect x="64.7" y="427.1" width="4.0" height="4.0" fill="#a81cff"/>
<rect x="72.1" y="437.9" width="4.0" height="4.0" fill="#a81cff"/>
<rect x="66.8" y="442.5" width="4.0" height="4.0" fill="#a81cff"/>
<rect x="96.2" y="418.8" width="4.0" height="4.0" fill="#a81cff"/>
<rect x="98.6" y="417.3" width="4.0" height="4.0" fill="#a81cff"/>
<rect x="105.0" y="413.2" width="4.0" height="4.0" fill="#a81cff"/>
<rect x="107.1" y="419.9" width="4.0" height="4.0" fill="#a81cff"/>
<rect x="77.0" y="426.8" width="4.0" height="4.0" fill="#a81cff"/>
<rect x="97.0" y="427.8" width="4.0" height="4.0" fill="#a81cff"/>
<rect x="106.0" y="427.8" width="4.0" height="4.0" fill="#a81cff"/>
<rect x="111.7" y="427.8" width="4.0" height="4.0" fill="#a81cff"/>
<rect x="84.2" y="434.6" width="4.0" height="4.0" fill="#a81cff"/>
<rect x="84.2" y="438.7" width="4.0" height="4.0" fill="#a81cff"/>
<rect x="100.4" y="435.0" width="4.0" height="4.0" fill="#a81cff"/>
<rect x="137.8" y="413.3" width="4.0" height="4.0" fill="#a81cff"/>
<rect x="129.1" y="414.8" width="4.0" height="4.0" fill="#a81cff"/>
<rect x="148.1" y="413.3" width="4.0" height="4.0" fill="#a81cff"/>
<rect x="122.4" y="423.1" width="4.0" height="4.0" fill="#a81cff"/>
<rect x="125.0" y="425.1" width="4.0" height="4.0" fill="#a81cff"/>
<rect x="134.7" y="425.1" width="4.0" height="4.0" fill="#a81cff"/>
<rect x="113.1" y="427.7" width="4.0" height="4.0" fill="#a81cff"/>
<rect x="123.2" y="436.0" width="4.0" height="4.0" fill="#a81cff"/>
<rect x="149.2" y="420.5" width="4.0" height="4.0" fill="#a81cff"/>
<rect x="157.8" y="411.2" width="4.0" height="4.0" fill="#a81cff"/>
<rect x="158.3" y="415.9" width="4.0" height="4.0" fill="#a81cff"/>
<rect x="162.4" y="414.3" width="4.0" height="4.0" fill="#a81cff"/>
<rect x="170.2" y="411.2" width="4.0" height="4.0" fill="#a81cff"/>
<rect x="171.7" y="414.3" width="4.0" height="4.0" fill="#a81cff"/>
<rect x="154.7" y="421.5" width="4.0" height="4.0" fill="#a81cff"/>
<rect x="159.3" y="418.4" width="4.0" height="4.0" fill="#a81cff"/>
<rect x="175.3" y="421.0" width="4.0" height="4.0" fill="#a81cff"/>
<rect x="177.9" y="419.5" width="4.0" height="4.0" fill="#a81cff"/>
<rect x="185.6" y="427.2" width="4.0" height="4.0" fill="#a81cff"/>
<rect x="184.1" y="437.5" width="4.0" height="4.0" fill="#a81cff"/>
<rect x="191.7" y="421.7" width="4.0" height="4.0" fill="#a81cff"/>
<rect x="212.8" y="417.9" width="4.0" height="4.0" fill="#a81cff"/>
<rect x="223.6" y="416.9" width="4.0" height="4.0" fill="#a81cff"/>
<rect x="210.7" y="430.6" width="4.0" height="4.0" fill="#a81cff"/>
<rect x="192.2" y="442.7" width="4.0" height="4.0" fill="#a81cff"/>
<rect x="256.0" y="420.6" width="4.0" height="4.0" fill="#a81cff"/>
<rect x="229.0" y="435.1" width="4.0" height="4.0" fill="#a81cff"/>
<rect x="55.6" y="461.8" width="4.0" height="4.0" fill="#a81cff"/>
<rect x="80.1" y="465.7" width="4.0" height="4.0" fill="#a81cff"/>
<rect x="81.0" y="486.9" width="4.0" height="4.0" fill="#a81cff"/>
<rect x="66.2" y="490.0" width="4.0" height="4.0" fill="#a81cff"/>
<rect x="70.1" y="490.0" width="4.0" height="4.0" fill="#a81cff"/>
<rect x="79.9" y="494.7" width="4.0" height="4.0" fill="#a81cff"/>
<rect x="85.0" y="509.2" width="4.0" height="4.0" fill="#a81cff"/>
<rect x="90.2" y="449.7" width="4.0" height="4.0" fill="#a81cff"/>
<rect x="131.7" y="461.1" width="4.0" height="4.0" fill="#a81cff"/>
<rect x="175.5" y="456.2" width="4.0" height="4.0" fill="#a81cff"/>
<rect x="183.5" y="456.6" width="4.0" height="4.0" fill="#a81cff"/>
<path d="M77.2 338.0L79.8 342.8L74.6 342.8Z" fill="#e8f000"/>
<path d="M85.7 349.3L88.3 354.1L83.1 354.1Z" fill="#e8f000"/>
<path d="M125.7 353.4L128.3 358.2L123.1 358.2Z" fill="#e8f000"/>
<path d="M94.0 372.0L96.6 376.8L91.4 376.8Z" fill="#e8f000"/>
<path d="M211.5 338.0L214.1 342.8L208.9 342.8Z" fill="#e8f000"/>
<path d="M144.2 352.8L146.8 357.5L141.6 357.5Z" fill="#e8f000"/>
<path d="M164.4 363.0L167.0 367.8L161.8 367.8Z" fill="#e8f000"/>
<path d="M160.0 372.2L162.6 377.0L157.4 377.0Z" fill="#e8f000"/>
<path d="M234.7 357.8L237.3 362.6L232.1 362.6Z" fill="#e8f000"/>
<path d="M272.1 361.2L274.7 366.0L269.5 366.0Z" fill="#e8f000"/>
<path d="M264.4 367.4L267.0 372.2L261.8 372.2Z" fill="#e8f000"/>
<path d="M299.3 368.1L301.9 372.9L296.7 372.9Z" fill="#e8f000"/>
<path d="M67.0 387.6L69.6 392.4L64.4 392.4Z" fill="#e8f000"/>
<path d="M119.3 383.2L121.9 388.0L116.7 388.0Z" fill="#e8f000"/>
<path d="M131.6 385.6L134.2 390.4L129.0 390.4Z" fill="#e8f000"/>
<path d="M127.5 408.8L130.1 413.6L124.9 413.6Z" fill="#e8f000"/>
<path d="M155.7 382.5L158.3 387.2L153.1 387.2Z" fill="#e8f000"/>
<path d="M168.9 391.8L171.5 396.6L166.3 396.6Z" fill="#e8f000"/>
<path d="M195.8 387.6L198.4 392.4L193.2 392.4Z" fill="#e8f000"/>
<path d="M189.8 394.3L192.4 399.1L187.2 399.1Z" fill="#e8f000"/>
<path d="M255.5 381.8L258.1 386.6L252.9 386.6Z" fill="#e8f000"/>
<path d="M118.0 415.8L120.6 420.6L115.4 420.6Z" fill="#e8f000"/>
<path d="M140.9 422.0L143.5 426.8L138.3 426.8Z" fill="#e8f000"/>
<path d="M76.0 489.8L78.6 494.6L73.4 494.6Z" fill="#e8f000"/>
</svg></body></html>
